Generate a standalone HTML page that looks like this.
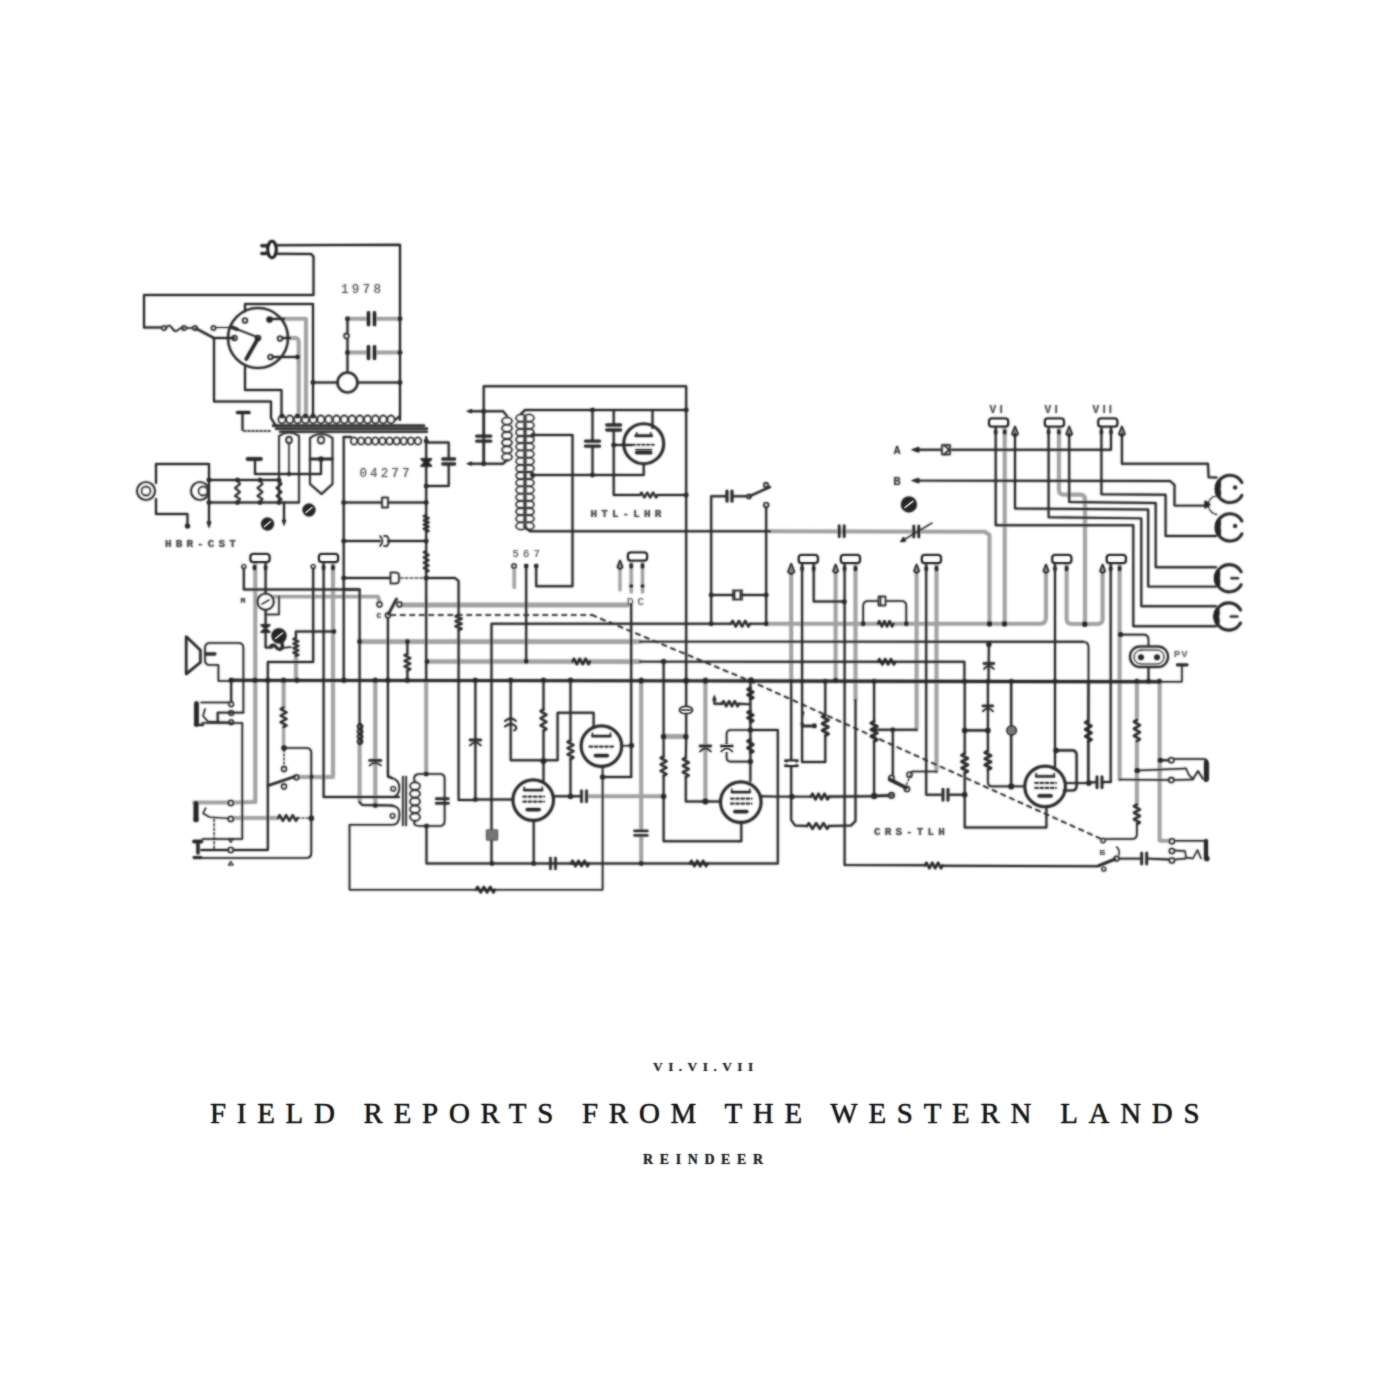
<!DOCTYPE html>
<html><head><meta charset="utf-8"><title>Field Reports from the Western Lands</title>
<style>
html,body{margin:0;padding:0;background:#fff;}
body{width:1400px;height:1400px;position:relative;overflow:hidden;font-family:"Liberation Serif",serif;color:#1a1a1a;}
svg{position:absolute;left:0;top:0;}
svg.b{filter:blur(0.8px);}
svg.c{opacity:0.45;}
svg .mono{font-family:"Liberation Mono","DejaVu Sans Mono",monospace;}
svg .sans{font-family:"Liberation Sans",sans-serif;}
.t{position:absolute;white-space:nowrap;line-height:1;}
#t1{left:653px;top:1059.5px;font-size:13.5px;letter-spacing:5.4px;font-weight:bold;color:rgba(40,40,40,0.55);text-shadow:0 0 1.6px rgba(40,40,40,0.95);}
#t2{left:210px;top:1098.5px;font-size:29px;letter-spacing:10.7px;color:rgba(17,17,17,0.55);-webkit-text-stroke:0.3px rgba(17,17,17,0.55);text-shadow:0 0 1.7px rgba(17,17,17,1);}
#t3{left:643px;top:1153px;font-size:14px;letter-spacing:6.6px;font-weight:bold;color:rgba(30,30,30,0.55);text-shadow:0 0 1.6px rgba(30,30,30,0.95);}
</style></head><body>
<svg class="b" width="1400" height="1400" viewBox="0 0 1400 1400" fill="none" stroke="#222" stroke-width="1.95" stroke-linecap="round" stroke-linejoin="round">
<polyline points="284,318.7 306,318.7 306,416" stroke="#a0a0a0" stroke-width="3.6"/>
<path d="M290,338 H295 q3.7,0 3.7,4 V416" stroke="#a0a0a0" stroke-width="3.6"/>
<polyline points="347.5,318.7 367.5,318.7" stroke="#a0a0a0" stroke-width="3.6"/>
<polyline points="377.5,318.7 400,318.7" stroke="#a0a0a0" stroke-width="3.6"/>
<polyline points="347.5,352.5 367.5,352.5" stroke="#a0a0a0" stroke-width="3.6"/>
<polyline points="377.5,352.5 400,352.5" stroke="#a0a0a0" stroke-width="3.6"/>
<polyline points="770,531.3 985,531.8" stroke="#a0a0a0" stroke-width="3.6"/>
<polyline points="985,531.8 989.5,535 989.5,623.8" stroke="#a0a0a0" stroke-width="3.6"/>
<polyline points="514.2,570 514.2,587.5" stroke="#a0a0a0" stroke-width="3.1"/>
<polyline points="631.2,561 631.2,592" stroke="#a0a0a0" stroke-width="3.1"/>
<polyline points="642.5,561 642.5,592" stroke="#a0a0a0" stroke-width="3.1"/>
<polyline points="620,566 620,590" stroke="#a0a0a0" stroke-width="2.9"/>
<polyline points="255.3,562 255.3,802" stroke="#a0a0a0" stroke-width="3.6"/>
<polyline points="273.8,596.6 279,596.6 378,596.6 379.5,601.5" stroke="#a0a0a0" stroke-width="3.4"/>
<polyline points="295.9,656 295.9,680.3" stroke="#a0a0a0" stroke-width="3.6"/>
<polyline points="333,562 333,777 298.5,777" stroke="#a0a0a0" stroke-width="3.6"/>
<polyline points="426.2,680.3 426.2,774" stroke="#a0a0a0" stroke-width="3.6"/>
<polyline points="402,605 627.5,605" stroke="#a0a0a0" stroke-width="4.3"/>
<polyline points="359.6,641.6 640,641.6" stroke="#a0a0a0" stroke-width="4.3"/>
<polyline points="255.3,802 234.6,802.5" stroke="#a0a0a0" stroke-width="3.6"/>
<polyline points="228,802.5 194,802.5" stroke="#a0a0a0" stroke-width="3.6"/>
<polyline points="234.6,818 278,818" stroke="#a0a0a0" stroke-width="3.6"/>
<polyline points="283.6,680.3 283.6,707.5" stroke="#a0a0a0" stroke-width="3.6"/>
<polyline points="283.6,727 283.6,747.9" stroke="#a0a0a0" stroke-width="2.9"/>
<polyline points="359.6,744 359.6,802" stroke="#a0a0a0" stroke-width="3.6"/>
<polyline points="375.3,680.3 375.3,805.5" stroke="#a0a0a0" stroke-width="3.6"/>
<polyline points="588,796.3 663.6,796.3" stroke="#a0a0a0" stroke-width="3.6"/>
<polyline points="641.2,680.3 641.2,830" stroke="#a0a0a0" stroke-width="3.6"/>
<polyline points="641.2,836 641.2,863.5" stroke="#a0a0a0" stroke-width="3.6"/>
<polyline points="663.6,736.5 685.8,736.5" stroke="#a0a0a0" stroke-width="4.3"/>
<polyline points="705.4,680.3 705.4,801.4" stroke="#a0a0a0" stroke-width="3.6"/>
<polyline points="791.2,571 791.2,680.3" stroke="#a0a0a0" stroke-width="3.6"/>
<polyline points="855.5,700 855.5,563" stroke="#a0a0a0" stroke-width="3.6"/>
<polyline points="835.6,571 835.6,680.3" stroke="#a0a0a0" stroke-width="3.6"/>
<polyline points="916.6,571 916.6,729.8" stroke="#a0a0a0" stroke-width="3.6"/>
<polyline points="936.5,563 936.5,771.6" stroke="#a0a0a0" stroke-width="3.6"/>
<polyline points="766.2,623.7 878,623.8" stroke="#a0a0a0" stroke-width="3.6"/>
<polyline points="893.4,623.8 1040,623.8" stroke="#a0a0a0" stroke-width="3.6"/>
<path d="M1040,623.8 q6,0 6,-6 V571" stroke="#a0a0a0" stroke-width="3.6"/>
<polyline points="427,661.5 640,661.6" stroke="#a0a0a0" stroke-width="4.1"/>
<polyline points="1004.7,427 1004.7,623.8" stroke="#a0a0a0" stroke-width="3.6"/>
<path d="M1058.9,427 V490 q0,4.6 4.6,4.6 H1080 q5,0 5,5 V623.8" stroke="#a0a0a0" stroke-width="3.6"/>
<path d="M1066.6,563 V619 q0,5 5,5 H1097.6 q5,0 5,-5 V571" stroke="#a0a0a0" stroke-width="3.6"/>
<polyline points="1119.6,563 1119.6,779.5" stroke="#a0a0a0" stroke-width="3.6"/>
<polyline points="1136.9,680.3 1136.9,720" stroke="#a0a0a0" stroke-width="3.6"/>
<polyline points="1136.9,741 1136.9,804.6" stroke="#a0a0a0" stroke-width="3.6"/>
<polyline points="1159.6,680.3 1159.6,840.6 1169,840.8" stroke="#a0a0a0" stroke-width="3.6"/>
<ellipse cx="272" cy="249.5" rx="4.2" ry="8.2" fill="#fff" stroke-width="3"/>
<polyline points="261.8,245.7 267.5,245.7" stroke-width="2.97"/>
<polyline points="261.8,253.6 267.5,253.6" stroke-width="2.97"/>
<polyline points="277,245.3 400,244.8 400,420"/>
<polyline points="277,253.8 311,254 313.5,256.5 313.5,295 144,295 144,327.5 161,327.5"/>
<circle cx="164" cy="328" r="2.2" fill="none" stroke-width="1.27"/>
<circle cx="184" cy="328" r="2.2" fill="none" stroke-width="1.27"/>
<circle cx="195" cy="328" r="2.2" fill="none" stroke-width="1.27"/>
<circle cx="213.5" cy="328" r="2.2" fill="none" stroke-width="1.27"/>
<path d="M166,328 q3,-5 6,0 t6,2 t5,-2" stroke-width="1.70"/>
<polyline points="186,328 193,328" stroke-width="1.27"/>
<polyline points="196,328.5 213,337.5" stroke-width="2.12"/>
<polyline points="215.5,327.5 228.5,327.5" stroke-width="1.17"/>
<polyline points="213,338 234,338"/>
<polyline points="214,338 214,401.5 271,401.5 271,418 276,426"/>
<circle cx="258" cy="338" r="30" fill="none" stroke-width="2.12"/>
<circle cx="245" cy="320.5" r="2.4" fill="none" stroke-width="1.38"/>
<circle cx="269.5" cy="319.5" r="2.4" fill="#222" stroke-width="1.38"/>
<circle cx="234.5" cy="338" r="2.4" fill="none" stroke-width="1.38"/>
<circle cx="280" cy="338.5" r="2.4" fill="none" stroke-width="1.38"/>
<circle cx="270.5" cy="357" r="2.4" fill="none" stroke-width="1.38"/>
<circle cx="258" cy="338" r="2.4" fill="none" stroke-width="1.38"/>
<polyline points="258,338.5 246,359.5" stroke-width="3.39" stroke-dasharray="5 1.2"/>
<polyline points="232,327.3 257,337" stroke-width="1.59"/>
<polyline points="232,327.3 237,329.3" stroke-width="3.18"/>
<polyline points="245,311.5 245,304 313,304 313,416"/>
<polyline points="271,319 284,318.7"/>
<polyline points="282.5,338 290,338"/>
<polyline points="272.5,357 297,357"/>
<circle cx="297.5" cy="357" r="2.3" fill="#222" stroke="none"/>
<polyline points="245,367 245,390 281.5,390 281.5,416"/>
<polyline points="237.5,412.5 249,412.5" stroke-width="3.18"/>
<polyline points="242.5,414 242.5,430"/>
<polyline points="244,431 272,431" stroke-width="1.38" stroke-dasharray="2 2"/>
<polyline points="273,425.7 424,425.7" stroke-width="2.33"/>
<polyline points="276,428.7 427,428.7" stroke-width="2.33"/>
<polyline points="280,431.7 427,431.7" stroke-width="2.12"/>
<ellipse cx="282" cy="419.5" rx="3.6" ry="4" fill="none" stroke-width="1.4"/>
<ellipse cx="289.786" cy="419.5" rx="3.6" ry="4" fill="none" stroke-width="1.4"/>
<ellipse cx="297.571" cy="419.5" rx="3.6" ry="4" fill="none" stroke-width="1.4"/>
<ellipse cx="305.357" cy="419.5" rx="3.6" ry="4" fill="none" stroke-width="1.4"/>
<ellipse cx="313.143" cy="419.5" rx="3.6" ry="4" fill="none" stroke-width="1.4"/>
<ellipse cx="320.929" cy="419.5" rx="3.6" ry="4" fill="none" stroke-width="1.4"/>
<ellipse cx="328.714" cy="419.5" rx="3.6" ry="4" fill="none" stroke-width="1.4"/>
<ellipse cx="336.5" cy="419.5" rx="3.6" ry="4" fill="none" stroke-width="1.4"/>
<ellipse cx="344.286" cy="419.5" rx="3.6" ry="4" fill="none" stroke-width="1.4"/>
<ellipse cx="352.071" cy="419.5" rx="3.6" ry="4" fill="none" stroke-width="1.4"/>
<ellipse cx="359.857" cy="419.5" rx="3.6" ry="4" fill="none" stroke-width="1.4"/>
<ellipse cx="367.643" cy="419.5" rx="3.6" ry="4" fill="none" stroke-width="1.4"/>
<ellipse cx="375.429" cy="419.5" rx="3.6" ry="4" fill="none" stroke-width="1.4"/>
<ellipse cx="383.214" cy="419.5" rx="3.6" ry="4" fill="none" stroke-width="1.4"/>
<ellipse cx="391" cy="419.5" rx="3.6" ry="4" fill="none" stroke-width="1.4"/>
<circle cx="282" cy="416" r="2.3" fill="#222" stroke="none"/>
<circle cx="297.5" cy="416" r="2.3" fill="#222" stroke="none"/>
<circle cx="305.5" cy="416" r="2.3" fill="#222" stroke="none"/>
<circle cx="313" cy="416" r="2.3" fill="#222" stroke="none"/>
<polyline points="395,420 400,416"/>
<ellipse cx="289" cy="440" rx="2.88" ry="3.2" fill="none" stroke-width="1.4"/>
<ellipse cx="321" cy="440" rx="3.15" ry="3.5" fill="none" stroke-width="1.4"/>
<ellipse cx="354" cy="441" rx="3.24" ry="3.6" fill="none" stroke-width="1.4"/>
<ellipse cx="361.111" cy="441" rx="3.24" ry="3.6" fill="none" stroke-width="1.4"/>
<ellipse cx="368.222" cy="441" rx="3.24" ry="3.6" fill="none" stroke-width="1.4"/>
<ellipse cx="375.333" cy="441" rx="3.24" ry="3.6" fill="none" stroke-width="1.4"/>
<ellipse cx="382.444" cy="441" rx="3.24" ry="3.6" fill="none" stroke-width="1.4"/>
<ellipse cx="389.556" cy="441" rx="3.24" ry="3.6" fill="none" stroke-width="1.4"/>
<ellipse cx="396.667" cy="441" rx="3.24" ry="3.6" fill="none" stroke-width="1.4"/>
<ellipse cx="403.778" cy="441" rx="3.24" ry="3.6" fill="none" stroke-width="1.4"/>
<ellipse cx="410.889" cy="441" rx="3.24" ry="3.6" fill="none" stroke-width="1.4"/>
<ellipse cx="418" cy="441" rx="3.24" ry="3.6" fill="none" stroke-width="1.4"/>
<polyline points="343.7,437 343.7,680.3"/>
<polyline points="343.7,437 351,437"/>
<polyline points="426.2,437 426.2,600"/>
<polyline points="368.5,312.7 368.5,324.7" stroke-width="3.18"/>
<polyline points="374.5,312.7 374.5,324.7" stroke-width="3.18"/>
<polyline points="368.5,346.5 368.5,358.5" stroke-width="3.18"/>
<polyline points="374.5,346.5 374.5,358.5" stroke-width="3.18"/>
<circle cx="347.5" cy="318.7" r="2.3" fill="#222" stroke="none"/>
<circle cx="347.5" cy="352.5" r="2.3" fill="#222" stroke="none"/>
<circle cx="400" cy="318.7" r="2.3" fill="#222" stroke="none"/>
<circle cx="400" cy="352.5" r="2.3" fill="#222" stroke="none"/>
<circle cx="400" cy="382.5" r="2.3" fill="#222" stroke="none"/>
<circle cx="346.5" cy="336" r="2.5" fill="none" stroke-width="1.27"/>
<polyline points="347.5,318.7 347.5,333"/>
<polyline points="347.5,339 347.5,372"/>
<circle cx="347.5" cy="382.5" r="10" fill="none" stroke-width="2.12"/>
<polyline points="312.5,382.5 337.5,382.5"/>
<circle cx="313" cy="382.5" r="2.3" fill="#222" stroke="none"/>
<polyline points="357.5,382.5 400,382.5"/>
<text x="341" y="292.5" font-size="12.5" letter-spacing="3.3" text-anchor="start" class="mono" font-weight="normal" fill="#555" stroke="none">1978</text>
<circle cx="426.2" cy="441" r="2.3" fill="#222" stroke="none"/>
<circle cx="426.2" cy="486" r="2.3" fill="#222" stroke="none"/>
<circle cx="426.2" cy="502.5" r="2.3" fill="#222" stroke="none"/>
<circle cx="426.2" cy="541" r="2.3" fill="#222" stroke="none"/>
<path d="M421,459 h10.5 l-5.2,5 z M421,466 h10.5 l-5.2,-5 z" stroke-width="1.27" fill="#222"/>
<polyline points="426.2,442.5 448.7,442.5 448.7,458"/>
<polyline points="448.7,465 448.7,486 426.2,486"/>
<polyline points="442.7,459 454.7,459" stroke-width="2.76"/>
<polyline points="442.7,464 454.7,464" stroke-width="2.76"/>
<text x="359.5" y="476.5" font-size="12.5" letter-spacing="3.1" text-anchor="start" class="mono" font-weight="normal" fill="#555" stroke="none">04277</text>
<polyline points="343.7,502.5 381,502.5"/>
<polyline points="389,502.5 426.2,502.5"/>
<circle cx="343.7" cy="502.5" r="2.3" fill="#222" stroke="none"/>
<path d="M382,497.5 h6 v10 h-6 z" stroke-width="1.48"/>
<polyline points="343.7,541 380,541"/>
<polyline points="388,541 426.2,541"/>
<circle cx="343.7" cy="541" r="2.3" fill="#222" stroke="none"/>
<path d="M380,536 q5,5 0,10 M384,536 h3 q4,5 0,10 h-3" stroke-width="1.38"/>
<polyline points="426.2,515 423.6,516.062 428.8,518.188 423.6,520.312 428.8,522.438 423.6,524.562 428.8,526.688 423.6,528.812 428.8,530.938 426.2,532" stroke-width="1.78"/>
<polyline points="426.2,551 423.6,552.312 428.8,554.938 423.6,557.562 428.8,560.188 423.6,562.812 428.8,565.438 423.6,568.062 428.8,570.688 426.2,572" stroke-width="1.78"/>
<circle cx="146" cy="491" r="9" fill="none" stroke-width="1.70"/>
<circle cx="146" cy="491" r="4.5" fill="none" stroke-width="1.27"/>
<circle cx="200" cy="491" r="9" fill="none" stroke-width="1.70"/>
<circle cx="203" cy="491" r="4.5" fill="none" stroke-width="1.27"/>
<polyline points="156,483 156,464 209,464 209,480"/>
<polyline points="156,499 156,514 187.5,514 187.5,524"/>
<circle cx="187.5" cy="526" r="2.5" fill="#222" stroke="none"/>
<polyline points="209,480 280,480"/>
<polyline points="209,502.5 299,502.5"/>
<polyline points="209,480 209,523"/>
<polygon points="206.55,521.5 211.45,521.5 209,528.5" fill="#222" stroke="none"/>
<circle cx="209" cy="480" r="2.3" fill="#222" stroke="none"/>
<circle cx="209" cy="502.5" r="2.3" fill="#222" stroke="none"/>
<circle cx="237.5" cy="480" r="2.2" fill="#222" stroke="none"/>
<circle cx="237.5" cy="502.5" r="2.2" fill="#222" stroke="none"/>
<polyline points="237.5,480 240,484 235,488 240,492 235,496 240,499 237.5,502.5" stroke-width="1.70"/>
<circle cx="260" cy="480" r="2.2" fill="#222" stroke="none"/>
<circle cx="260" cy="502.5" r="2.2" fill="#222" stroke="none"/>
<polyline points="260,480 262.5,484 257.5,488 262.5,492 257.5,496 262.5,499 260,502.5" stroke-width="1.70"/>
<circle cx="279" cy="480" r="2.2" fill="#222" stroke="none"/>
<circle cx="279" cy="502.5" r="2.2" fill="#222" stroke="none"/>
<polyline points="279,480 281.5,484 276.5,488 281.5,492 276.5,496 281.5,499 279,502.5" stroke-width="1.70"/>
<polyline points="284,502.5 284,521"/>
<polygon points="281.76,519.8 286.24,519.8 284,526.2" fill="#222" stroke="none"/>
<polyline points="247.5,459 261,459" stroke-width="3.39"/>
<polyline points="255,461 255,474 321,474 321,461"/>
<circle cx="289" cy="474" r="2" fill="#222" stroke="none"/>
<path d="M279,436 v66 M299,436 v66 M279,436 q10,-7 20,0" stroke-width="1.59"/>
<polyline points="289,444 289,474" stroke-width="1.27"/>
<path d="M310,438 q11,-8 22.5,0 v46 l-11,10 l-11.5,-10 z" stroke-width="1.70"/>
<polyline points="310,459 332.5,459" stroke-width="2.33"/>
<circle cx="321" cy="459" r="2.6" fill="#222" stroke="none"/>
<circle cx="309" cy="510" r="5.5" fill="#222"/>
<line x1="306" y1="512.5" x2="312" y2="507.5" stroke="#fff" stroke-width="1.3"/>
<circle cx="267.5" cy="524" r="5.5" fill="#222"/>
<line x1="264.5" y1="526.5" x2="270.5" y2="521.5" stroke="#fff" stroke-width="1.3"/>
<text x="165" y="546.8" font-size="11" letter-spacing="4.1" text-anchor="start" class="mono" font-weight="bold" fill="#444" stroke="none">HBR-CST</text>
<polyline points="483.7,463.7 483.7,386.2 686.2,386.2 686.2,740"/>
<circle cx="483.7" cy="411.2" r="2.3" fill="#222" stroke="none"/>
<circle cx="483.7" cy="463.7" r="2.3" fill="#222" stroke="none"/>
<polyline points="483.7,411.2 469,411.2"/>
<polygon points="472,409.1 472,413.3 466,411.2" fill="#222" stroke="none"/>
<polyline points="483.7,463.7 469,463.7"/>
<polygon points="472,461.6 472,465.8 466,463.7" fill="#222" stroke="none"/>
<polyline points="483.7,411.2 483.7,435"/>
<polyline points="483.7,442 483.7,463.7"/>
<polyline points="476.7,436.2 490.7,436.2" stroke-width="2.76"/>
<polyline points="476.7,441.2 490.7,441.2" stroke-width="2.76"/>
<polyline points="483.7,411.2 503,411.2 507,416"/>
<polyline points="483.7,463.7 503,463.7 507,460"/>
<ellipse cx="507" cy="421" rx="5" ry="3.6" fill="none" stroke-width="1.4"/>
<ellipse cx="507" cy="428.2" rx="5" ry="3.6" fill="none" stroke-width="1.4"/>
<ellipse cx="507" cy="435.4" rx="5" ry="3.6" fill="none" stroke-width="1.4"/>
<ellipse cx="507" cy="442.6" rx="5" ry="3.6" fill="none" stroke-width="1.4"/>
<ellipse cx="507" cy="449.8" rx="5" ry="3.6" fill="none" stroke-width="1.4"/>
<ellipse cx="507" cy="457" rx="5" ry="3.6" fill="none" stroke-width="1.4"/>
<polyline points="525,410 686.2,410"/>
<circle cx="686.2" cy="410" r="2.3" fill="#222" stroke="none"/>
<circle cx="592.5" cy="410" r="2.3" fill="#222" stroke="none"/>
<polyline points="525,410 521,414"/>
<ellipse cx="521" cy="418" rx="5" ry="3.6" fill="none" stroke-width="1.3"/>
<ellipse cx="521" cy="425.2" rx="5" ry="3.6" fill="none" stroke-width="1.3"/>
<ellipse cx="521" cy="432.4" rx="5" ry="3.6" fill="none" stroke-width="1.3"/>
<ellipse cx="521" cy="439.6" rx="5" ry="3.6" fill="none" stroke-width="1.3"/>
<ellipse cx="521" cy="446.8" rx="5" ry="3.6" fill="none" stroke-width="1.3"/>
<ellipse cx="521" cy="454" rx="5" ry="3.6" fill="none" stroke-width="1.3"/>
<ellipse cx="521" cy="461.2" rx="5" ry="3.6" fill="none" stroke-width="1.3"/>
<ellipse cx="521" cy="468.4" rx="5" ry="3.6" fill="none" stroke-width="1.3"/>
<ellipse cx="521" cy="475.6" rx="5" ry="3.6" fill="none" stroke-width="1.3"/>
<ellipse cx="521" cy="482.8" rx="5" ry="3.6" fill="none" stroke-width="1.3"/>
<ellipse cx="521" cy="490" rx="5" ry="3.6" fill="none" stroke-width="1.3"/>
<ellipse cx="521" cy="497.2" rx="5" ry="3.6" fill="none" stroke-width="1.3"/>
<ellipse cx="521" cy="504.4" rx="5" ry="3.6" fill="none" stroke-width="1.3"/>
<ellipse cx="521" cy="511.6" rx="5" ry="3.6" fill="none" stroke-width="1.3"/>
<ellipse cx="521" cy="518.8" rx="5" ry="3.6" fill="none" stroke-width="1.3"/>
<ellipse cx="521" cy="526" rx="5" ry="3.6" fill="none" stroke-width="1.3"/>
<ellipse cx="529" cy="418" rx="5" ry="3.6" fill="none" stroke-width="1.3"/>
<ellipse cx="529" cy="425.2" rx="5" ry="3.6" fill="none" stroke-width="1.3"/>
<ellipse cx="529" cy="432.4" rx="5" ry="3.6" fill="none" stroke-width="1.3"/>
<ellipse cx="529" cy="439.6" rx="5" ry="3.6" fill="none" stroke-width="1.3"/>
<ellipse cx="529" cy="446.8" rx="5" ry="3.6" fill="none" stroke-width="1.3"/>
<ellipse cx="529" cy="454" rx="5" ry="3.6" fill="none" stroke-width="1.3"/>
<ellipse cx="529" cy="461.2" rx="5" ry="3.6" fill="none" stroke-width="1.3"/>
<ellipse cx="529" cy="468.4" rx="5" ry="3.6" fill="none" stroke-width="1.3"/>
<ellipse cx="529" cy="475.6" rx="5" ry="3.6" fill="none" stroke-width="1.3"/>
<ellipse cx="529" cy="482.8" rx="5" ry="3.6" fill="none" stroke-width="1.3"/>
<ellipse cx="529" cy="490" rx="5" ry="3.6" fill="none" stroke-width="1.3"/>
<ellipse cx="529" cy="497.2" rx="5" ry="3.6" fill="none" stroke-width="1.3"/>
<ellipse cx="529" cy="504.4" rx="5" ry="3.6" fill="none" stroke-width="1.3"/>
<ellipse cx="529" cy="511.6" rx="5" ry="3.6" fill="none" stroke-width="1.3"/>
<ellipse cx="529" cy="518.8" rx="5" ry="3.6" fill="none" stroke-width="1.3"/>
<ellipse cx="529" cy="526" rx="5" ry="3.6" fill="none" stroke-width="1.3"/>
<polyline points="533.7,435 572.5,435 572.5,586.2 536.2,586.2 536.2,568"/>
<circle cx="533" cy="435" r="2" fill="#222" stroke="none"/>
<polyline points="532.5,475 643.7,475 643.7,464"/>
<circle cx="532.5" cy="475" r="2.3" fill="#222" stroke="none"/>
<circle cx="592.5" cy="475" r="2.3" fill="#222" stroke="none"/>
<polyline points="592.5,410 592.5,440"/>
<polyline points="592.5,447 592.5,475"/>
<polyline points="585.5,441.2 599.5,441.2" stroke-width="2.76"/>
<polyline points="585.5,446.2 599.5,446.2" stroke-width="2.76"/>
<polyline points="613.7,410 613.7,424"/>
<polyline points="613.7,431 613.7,495 640,495"/>
<polyline points="606.7,425 620.7,425" stroke-width="2.76"/>
<polyline points="606.7,430 620.7,430" stroke-width="2.76"/>
<polyline points="640,495 641.458,492.5 644.375,497.5 647.292,492.5 650.208,497.5 653.125,492.5 656.042,497.5 657.5,495" stroke-width="1.91"/>
<polyline points="657.5,495 686.2,495"/>
<circle cx="686.2" cy="495" r="2.3" fill="#222" stroke="none"/>
<circle cx="613.7" cy="445" r="2.3" fill="#222" stroke="none"/>
<circle cx="643.7" cy="443.7" r="20" fill="none" stroke-width="2.65"/>
<polyline points="635.7,435.7 651.7,435.7" stroke-width="2.54"/>
<polyline points="636.7,432.7 636.7,435.7" stroke-width="1.27"/>
<polyline points="650.7,432.7 650.7,435.7" stroke-width="1.27"/>
<polyline points="632.7,444.7 654.7,444.7" stroke-width="1.59" stroke-dasharray="2.5 2.2"/>
<polyline points="636.7,452.7 650.7,452.7" stroke-width="3.18"/>
<polyline points="635.7,449.7 651.7,449.7" stroke-width="1.17"/>
<polyline points="613.7,445 632,445"/>
<polyline points="652.5,428 652.5,410"/>
<text x="590.5" y="517.3" font-size="11" letter-spacing="4.1" text-anchor="start" class="mono" font-weight="bold" fill="#444" stroke="none">HTL-LHR</text>
<polyline points="526,528 530,531.2 770,531.3"/>
<polyline points="711.2,623.7 711.2,496.2 726,496.2"/>
<polyline points="727,491.2 727,501.2" stroke-width="2.76"/>
<polyline points="732,491.2 732,501.2" stroke-width="2.76"/>
<polyline points="733,496.2 747,496.2"/>
<circle cx="749" cy="496.5" r="2" fill="none" stroke-width="1.27"/>
<polyline points="750,496 770,487" stroke-width="2.12"/>
<circle cx="766" cy="485" r="2.2" fill="none" stroke-width="1.38"/>
<circle cx="766.2" cy="505" r="2.4" fill="none" stroke-width="1.38"/>
<polyline points="766.2,507.5 766.2,623.7"/>
<circle cx="711.2" cy="595" r="2.3" fill="#222" stroke="none"/>
<circle cx="711.2" cy="623.7" r="2.3" fill="#222" stroke="none"/>
<circle cx="766.2" cy="595" r="2.3" fill="#222" stroke="none"/>
<circle cx="766.2" cy="623.7" r="2.3" fill="#222" stroke="none"/>
<polyline points="711.2,595 733,595"/>
<polyline points="742,595 766.2,595"/>
<path d="M734.5,590.5 h6 v9 h-6 z" stroke-width="1.38"/>
<polyline points="733,590 733,600" stroke-width="1.27"/>
<polyline points="742,590 742,600" stroke-width="1.27"/>
<text x="512.5" y="556.5" font-size="10.5" letter-spacing="4.2" text-anchor="start" class="mono" font-weight="normal" fill="#555" stroke="none">567</text>
<circle cx="514" cy="566" r="2.2" fill="none" stroke-width="1.27"/>
<circle cx="526.2" cy="566" r="2.2" fill="#222" stroke="none"/>
<circle cx="536.2" cy="566" r="2.2" fill="#222" stroke="none"/>
<polyline points="526.2,566 526.2,661.2"/>
<circle cx="526.2" cy="661.2" r="2.3" fill="#222" stroke="none"/>
<rect x="628" y="552.5" width="19" height="8" rx="2.8" fill="#fff" stroke-width="2.1"/>
<circle cx="631.2" cy="586" r="1.8" fill="#222" stroke="none"/>
<circle cx="642.5" cy="586" r="1.8" fill="#222" stroke="none"/>
<path d="M617.4,567.12 L620,560.36 L622.6,567.12 L620,569.2 Z" stroke-width="1.38" fill="#888"/>
<text x="627" y="604.5" font-size="11" letter-spacing="4" text-anchor="start" class="mono" font-weight="normal" fill="#555" stroke="none">DC</text>
<polyline points="631.2,604 631.2,777"/>
<rect x="250.5" y="554" width="19" height="8" rx="2.8" fill="#fff" stroke-width="2.1"/>
<rect x="319" y="554" width="19" height="8" rx="2.8" fill="#fff" stroke-width="2.1"/>
<circle cx="243.8" cy="566.5" r="2" fill="none" stroke-width="1.17"/>
<circle cx="313.2" cy="566.5" r="2" fill="none" stroke-width="1.17"/>
<polyline points="243.8,569 243.8,589.5 359.6,589.5 359.6,724"/>
<circle cx="359.6" cy="641.6" r="2.3" fill="#222" stroke="none"/>
<polyline points="265.6,562 265.6,593.5"/>
<circle cx="265.6" cy="601.7" r="8.2" fill="none" stroke-width="1.70"/>
<polyline points="262,604 269,600" stroke-width="1.38"/>
<text x="240.5" y="602.5" font-size="8" letter-spacing="0" text-anchor="start" class="mono" font-weight="bold" fill="#3a3a3a" stroke="none">M</text>
<polyline points="279,596.6 279,614.6 265.6,614.6" stroke-width="1.48"/>
<polyline points="265.6,610 265.6,625"/>
<polyline points="265.6,632 265.6,647.4 272,647.4"/>
<path d="M261,625 h9 l-4.5,3.5 z M261,632 h9 l-4.5,-3.5 z" stroke-width="1.27" fill="#222"/>
<circle cx="279" cy="635.8" r="6.6" fill="#222"/>
<line x1="275.5" y1="638.5" x2="282.5" y2="633" stroke="#fff" stroke-width="1.4"/>
<path d="M271,646 q3,-2 5,1 t5,2 q2,-1 1,-6" stroke-width="2.97"/>
<polyline points="282,648 291,647" stroke-width="1.27"/>
<polyline points="295.9,638 293.3,639.125 298.5,641.375 293.3,643.625 298.5,645.875 293.3,648.125 298.5,650.375 293.3,652.625 298.5,654.875 295.9,656" stroke-width="1.91"/>
<polyline points="295.9,638 295.9,631.5 333.8,631.5"/>
<circle cx="333.8" cy="631.5" r="2.3" fill="#222" stroke="none"/>
<polyline points="313.2,569 313.2,662 267.8,662 267.8,850 234.6,850"/>
<polyline points="323.6,562 323.6,797 399,797"/>
<circle cx="343.7" cy="578" r="2.3" fill="#222" stroke="none"/>
<circle cx="343.7" cy="680.3" r="2.3" fill="#222" stroke="none"/>
<polyline points="343.7,578 390,578"/>
<path d="M390.5,572.5 h5 q3.5,0 3.5,3 v5 q0,3 -3.5,3 h-5 z" stroke-width="1.48"/>
<polyline points="400,578 424,578" stroke-width="1.17" stroke-dasharray="3 2"/>
<circle cx="426.2" cy="578" r="2.3" fill="#222" stroke="none"/>
<polyline points="426.2,578 455,578 458.6,581 458.6,615"/>
<polyline points="458.6,615 455.6,616.25 461.6,618.75 455.6,621.25 461.6,623.75 455.6,626.25 461.6,628.75 458.6,630" stroke-width="2.29"/>
<polyline points="458.6,630 458.6,800 475.5,800"/>
<polyline points="426.2,600 426.2,680.3"/>
<polyline points="344,589.5 359.6,589.5"/>
<circle cx="379.5" cy="604.4" r="2.5" fill="none" stroke-width="1.27"/>
<circle cx="399.4" cy="604.4" r="2.5" fill="none" stroke-width="1.27"/>
<circle cx="387.9" cy="615.3" r="2.5" fill="none" stroke-width="1.27"/>
<polyline points="388.5,614 396.5,599" stroke-width="2.54"/>
<text x="376.5" y="618" font-size="8" letter-spacing="0" text-anchor="start" class="mono" font-weight="bold" fill="#3a3a3a" stroke="none">C</text>
<polyline points="391,615 592,615" stroke-width="1.59" stroke-dasharray="4.5 5"/>
<polyline points="592,615 751.7,681.7 1102,839.3" stroke-width="1.59" stroke-dasharray="4.5 5"/>
<polyline points="387.9,618 387.9,776.6 392,778"/>
<polyline points="640,641.6 1083,641.8" stroke-width="1.91"/>
<circle cx="407.4" cy="641.6" r="2.3" fill="#222" stroke="none"/>
<polyline points="407.4,641.6 407.4,654"/>
<polyline points="407.4,654 404.4,655.375 410.4,658.125 404.4,660.875 410.4,663.625 404.4,666.375 410.4,669.125 407.4,670.5" stroke-width="2.04"/>
<polyline points="407.4,670.5 407.4,680.3"/>
<circle cx="427" cy="661.5" r="2.3" fill="#222" stroke="none"/>
<polyline points="711.2,623.7 491.5,623.7 491.5,800"/>
<polyline points="230.6,680.3 700,680.9 1160,681.8" stroke-width="2.86"/>
<circle cx="231.2" cy="680.3" r="2.5" fill="#222" stroke="none"/>
<circle cx="255" cy="680.3" r="2.5" fill="#222" stroke="none"/>
<circle cx="267.8" cy="680.3" r="2.5" fill="#222" stroke="none"/>
<circle cx="283.6" cy="680.3" r="2.5" fill="#222" stroke="none"/>
<circle cx="297" cy="680.3" r="2.5" fill="#222" stroke="none"/>
<circle cx="344" cy="680.3" r="2.5" fill="#222" stroke="none"/>
<circle cx="375.3" cy="680.3" r="2.5" fill="#222" stroke="none"/>
<circle cx="387.9" cy="680.3" r="2.5" fill="#222" stroke="none"/>
<circle cx="407.4" cy="680.3" r="2.5" fill="#222" stroke="none"/>
<circle cx="475.3" cy="680.3" r="2.5" fill="#222" stroke="none"/>
<path d="M186.2,636.7 L200.4,650.2 V662.4 L186.2,674 Z" stroke-width="2.33"/>
<path d="M243.4,712.6 V648 q0,-5 -5,-5 H210 q-5,0 -5,5 V660 q0,5 5,5 H218.4 V681 H230.6" stroke-width="1.59"/>
<polyline points="206,654 215,654" stroke-width="2.76"/>
<polyline points="243.4,712.6 217.7,712.6 217.7,722"/>
<polyline points="231.2,680.3 231.2,701.5"/>
<circle cx="231.2" cy="704.2" r="2.4" fill="none" stroke-width="1.17"/>
<circle cx="231.2" cy="713" r="2.4" fill="none" stroke-width="1.17"/>
<circle cx="231.2" cy="722.2" r="2.4" fill="none" stroke-width="1.17"/>
<polyline points="196.5,703.5 196.5,724.5" stroke-width="4.45"/>
<polyline points="195,725 203,725" stroke-width="2.12"/>
<polyline points="201,702.5 229,702.5" stroke-width="1.27"/>
<polyline points="205,709 203,716 208,721.5 229,722.5" stroke-width="1.38"/>
<polyline points="202,723 242.3,723 242.3,839 202.5,839" stroke-width="1.59"/>
<circle cx="230.8" cy="803" r="2.6" fill="none" stroke-width="1.27"/>
<polyline points="196,803.5 196,818.5" stroke-width="4.66"/>
<circle cx="196" cy="819.5" r="2.6" fill="#222" stroke="none"/>
<polyline points="205.7,808 203.1,813.3 209.6,817.1 228,818.4" stroke-width="1.38"/>
<circle cx="230.8" cy="819" r="2.6" fill="none" stroke-width="1.27"/>
<polyline points="278,818 279.633,815.2 282.9,820.8 286.167,815.2 289.433,820.8 292.7,815.2 295.967,820.8 297.6,818" stroke-width="2.16"/>
<polyline points="298,818 311,818" stroke-width="1.17" stroke-dasharray="2 2"/>
<circle cx="311.3" cy="818.2" r="2.6" fill="#222" stroke="none"/>
<polyline points="214.1,819 214.1,849" stroke-width="1.17" stroke-dasharray="2.5 2"/>
<polyline points="194,841.5 201.5,841.5" stroke-width="3.39"/>
<polyline points="198,842 198,853" stroke-width="3.18"/>
<polyline points="194,857.6 201,857.6" stroke-width="2.65"/>
<polyline points="201.2,850 228,850"/>
<circle cx="230.8" cy="850" r="2.6" fill="none" stroke-width="1.27"/>
<path d="M228.5,839 l2.3,3.5 l2.3,-3.5 z M228.5,865 l2.3,-3.5 l2.3,3.5 z" stroke-width="1.06"/>
<path d="M201,858 H306 q5.3,0 5.3,-5 V753 q0,-5 -5,-5 H284" stroke-width="1.70"/>
<circle cx="284" cy="747.9" r="2.6" fill="#222" stroke="none"/>
<polyline points="283.6,707.5 280.6,709.125 286.6,712.375 280.6,715.625 286.6,718.875 280.6,722.125 286.6,725.375 283.6,727" stroke-width="2.16"/>
<polyline points="284,750 284,766" stroke-width="1.17" stroke-dasharray="2 2"/>
<circle cx="284" cy="769" r="2.5" fill="none" stroke-width="1.27"/>
<circle cx="296.4" cy="777.3" r="2.5" fill="none" stroke-width="1.27"/>
<circle cx="284" cy="786.5" r="2.5" fill="none" stroke-width="1.27"/>
<polyline points="268,785.6 294.5,776.6" stroke-width="2.54"/>
<circle cx="311.5" cy="776.8" r="2" fill="#222" stroke="none"/>
<path d="M359.6,724 q5,2.5 0,5 q5,2.5 0,5 q5,2.5 0,5 q5,2.5 0,5" stroke-width="2.54"/>
<path d="M359.6,724 q-4,2.5 0,5 q-4,2.5 0,5 q-4,2.5 0,5 q-4,2.5 0,5" stroke-width="1.70"/>
<polyline points="359.6,802 362,805 392.6,805.5"/>
<circle cx="375.3" cy="805.5" r="2.3" fill="#222" stroke="none"/>
<polyline points="369.5,760.5 381,760.5" stroke-width="2.33"/>
<path d="M369.5,765.5 q5.7,-5 11.5,0" stroke-width="1.48"/>
<path d="M387.9,770 V774 q0,3 4,4 q7.5,2 7.5,9.6 q0,9.5 -8,9.5" stroke-width="1.59"/>
<path d="M392,806 q7.5,0 7.5,8 q0,10.8 -7,10.8 H349.5 V889.7 H602.6 V766.5" stroke-width="1.59"/>
<circle cx="393.2" cy="788.8" r="2.3" fill="none" stroke-width="1.17"/>
<circle cx="392.6" cy="815.8" r="2.3" fill="none" stroke-width="1.17"/>
<polyline points="402.9,776.6 402.9,825.4" stroke-width="1.59"/>
<polyline points="406.1,776.6 406.1,825.4" stroke-width="1.59"/>
<ellipse cx="415" cy="786" rx="5" ry="3.78" fill="none" stroke-width="1.4"/>
<ellipse cx="415" cy="793.75" rx="5" ry="3.78" fill="none" stroke-width="1.4"/>
<ellipse cx="415" cy="801.5" rx="5" ry="3.78" fill="none" stroke-width="1.4"/>
<ellipse cx="415" cy="809.25" rx="5" ry="3.78" fill="none" stroke-width="1.4"/>
<ellipse cx="415" cy="817" rx="5" ry="3.78" fill="none" stroke-width="1.4"/>
<path d="M415,782 q-3,-8 5,-8 H440 q4.6,0 4.6,4.6 V821 q0,5 -5,5 H420 q-8,0 -5,-5" stroke-width="1.59"/>
<circle cx="426.2" cy="774" r="2.3" fill="#222" stroke="none"/>
<circle cx="426.5" cy="826" r="2.3" fill="#222" stroke="none"/>
<polyline points="436.3,798.75 448.3,798.75" stroke-width="2.54"/>
<polyline points="436.3,803.25 448.3,803.25" stroke-width="2.54"/>
<polyline points="426.5,826 426.5,863.5 777.8,863.5 777.8,730 750.4,730"/>
<polyline points="475.4,680.3 475.4,799.5"/>
<circle cx="475.4" cy="799.5" r="2.3" fill="#222" stroke="none"/>
<polyline points="469.9,740 480.9,740" stroke-width="2.33"/>
<path d="M469.9,745.5 q5.5,-6 11,0" stroke-width="1.59"/>
<polyline points="475.5,799.5 513,799.5"/>
<polyline points="491.5,800 491.5,863.5"/>
<circle cx="492" cy="863.5" r="2.3" fill="#222" stroke="none"/>
<rect x="487" y="830" width="10.5" height="10" fill="#777" stroke="#555" stroke-width="1"/>
<polyline points="510.7,680.3 510.7,760.3 557.6,760.3 557.6,712.7 593.6,712.7 593.6,727"/>
<circle cx="510.7" cy="680.3" r="2.5" fill="#222" stroke="none"/>
<path d="M505,721 q6,-5 11,0 M505,726.5 q6,-5 11,0 q1,3 -2,4" stroke-width="1.70"/>
<polyline points="543.5,680.3 543.5,709.5"/>
<polyline points="543.5,709.5 540.5,711.267 546.5,714.8 540.5,718.333 546.5,721.867 540.5,725.4 546.5,728.933 543.5,730.7" stroke-width="2.16"/>
<polyline points="543.5,730.7 543.5,781"/>
<circle cx="543.5" cy="680.3" r="2.5" fill="#222" stroke="none"/>
<circle cx="543.5" cy="761" r="2.8" fill="#222" stroke="none"/>
<polyline points="570.5,680.3 570.5,740.4"/>
<polyline points="570.5,740.4 567.5,741.95 573.5,745.05 567.5,748.15 573.5,751.25 567.5,754.35 573.5,757.45 570.5,759" stroke-width="2.16"/>
<polyline points="570.5,759 570.5,796.3"/>
<circle cx="570.5" cy="680.3" r="2.5" fill="#222" stroke="none"/>
<circle cx="570.5" cy="796.3" r="2.6" fill="#222" stroke="none"/>
<circle cx="533.2" cy="800.1" r="20.3" fill="none" stroke-width="2.65"/>
<polyline points="524.2,790.1 542.2,790.1" stroke-width="2.33"/>
<polyline points="524.2,787.1 524.2,790.1" stroke-width="1.27"/>
<polyline points="542.2,787.1 542.2,790.1" stroke-width="1.27"/>
<polyline points="523.2,796.6 544.2,796.6" stroke-width="1.59" stroke-dasharray="3 2.2"/>
<polyline points="523.2,801.6 544.2,801.6" stroke-width="1.59" stroke-dasharray="3 2.2"/>
<polyline points="527.2,809.6 539.2,809.6" stroke-width="3.18"/>
<polyline points="553.5,796.3 580,796.3"/>
<polyline points="581.5,790.8 581.5,801.8" stroke-width="2.44"/>
<polyline points="586.5,790.8 586.5,801.8" stroke-width="2.44"/>
<polyline points="533.7,820.5 533.7,863.5"/>
<circle cx="533.7" cy="863.5" r="2.3" fill="#222" stroke="none"/>
<polyline points="550.5,858 550.5,869" stroke-width="2.33"/>
<polyline points="555.5,858 555.5,869" stroke-width="2.33"/>
<polyline points="571,863.5 572.5,860.7 575.5,866.3 578.5,860.7 581.5,866.3 584.5,860.7 587.5,866.3 589,863.5" stroke-width="2.16"/>
<polyline points="690,863.5 691.458,860.7 694.375,866.3 697.292,860.7 700.208,866.3 703.125,860.7 706.042,866.3 707.5,863.5" stroke-width="2.16"/>
<polyline points="476,889.7 477.583,886.9 480.75,892.5 483.917,886.9 487.083,892.5 490.25,886.9 493.417,892.5 495,889.7" stroke-width="2.16"/>
<circle cx="601.4" cy="746.1" r="20.3" fill="none" stroke-width="2.65"/>
<polyline points="592.4,736.1 610.4,736.1" stroke-width="2.33"/>
<polyline points="592.4,733.1 592.4,736.1" stroke-width="1.27"/>
<polyline points="610.4,733.1 610.4,736.1" stroke-width="1.27"/>
<polyline points="589.4,746.6 613.4,746.6" stroke-width="1.59" stroke-dasharray="3 2.2"/>
<polyline points="595.4,755.6 607.4,755.6" stroke-width="3.18"/>
<circle cx="602.6" cy="777" r="2.5" fill="#222" stroke="none"/>
<polyline points="602.6,777 631.4,777"/>
<circle cx="631.4" cy="745.5" r="2.5" fill="#222" stroke="none"/>
<polyline points="622,745.8 631.4,745.5" stroke-width="1.27"/>
<circle cx="641.2" cy="680.3" r="2.5" fill="#222" stroke="none"/>
<circle cx="641.2" cy="863.5" r="2.3" fill="#222" stroke="none"/>
<polyline points="634.5,830.95 647.5,830.95" stroke-width="2.33"/>
<polyline points="634.5,835.45 647.5,835.45" stroke-width="2.33"/>
<circle cx="663.6" cy="661.5" r="2.5" fill="#222" stroke="none"/>
<polyline points="663.6,661.5 663.6,756.4"/>
<polyline points="663.6,756.4 660.6,758.008 666.6,761.225 660.6,764.442 666.6,767.658 660.6,770.875 666.6,774.092 663.6,775.7" stroke-width="2.16"/>
<polyline points="663.6,775.7 663.6,841.2 741.3,841.2 741.3,822"/>
<circle cx="663.6" cy="736.5" r="2.6" fill="#222" stroke="none"/>
<circle cx="663.6" cy="796.3" r="2.6" fill="#222" stroke="none"/>
<circle cx="685.8" cy="736.5" r="2.6" fill="#222" stroke="none"/>
<circle cx="686.2" cy="680.3" r="2.5" fill="#222" stroke="none"/>
<polyline points="685.8,757.7 682.8,759.308 688.8,762.525 682.8,765.742 688.8,768.958 682.8,772.175 688.8,775.392 685.8,777" stroke-width="2.16"/>
<polyline points="686.2,740 685.8,757.7"/>
<polyline points="685.8,777 685.8,801.4 721,801.4"/>
<circle cx="705.4" cy="801.4" r="2.8" fill="#222" stroke="none"/>
<ellipse cx="686" cy="710" rx="6.5" ry="3.6" fill="#fff" stroke-width="1.5"/>
<polyline points="681.5,710 690.5,710" stroke-width="1.70"/>
<circle cx="705.4" cy="680.3" r="2.5" fill="#222" stroke="none"/>
<polyline points="699.9,746 710.9,746" stroke-width="2.33"/>
<path d="M699.9,751.5 q5.5,-6 11,0" stroke-width="1.59"/>
<circle cx="751" cy="680.3" r="2.8" fill="#222" stroke="none"/>
<polyline points="750.4,680.3 750.4,781"/>
<polyline points="750.4,688 747.6,689.375 753.2,692.125 747.6,694.875 753.2,697.625 750.4,699" stroke-width="2.54"/>
<polyline points="750.4,711 747.6,712.375 753.2,715.125 747.6,717.875 753.2,720.625 750.4,722" stroke-width="2.54"/>
<polyline points="750.4,739.5 747.6,741.188 753.2,744.562 747.6,747.938 753.2,751.312 750.4,753" stroke-width="2.54"/>
<circle cx="750.4" cy="730" r="2.5" fill="#222" stroke="none"/>
<circle cx="750.4" cy="761.6" r="2.5" fill="#222" stroke="none"/>
<path d="M750.4,730 H731 q-4.4,0 -4.4,4 V757.6 q0,4 4,4 H750.4" stroke-width="1.59"/>
<rect x="722" y="744" width="10" height="8" fill="#fff" stroke="none"/>
<polyline points="721.3,746 732.3,746" stroke-width="2.33"/>
<path d="M721.3,751.5 q5.5,-6 11,0" stroke-width="1.59"/>
<polyline points="714.4,700.5 714.4,703.7 722,703.7"/>
<polygon points="712.3,700.5 716.5,700.5 714.4,694.5" fill="#222" stroke="none"/>
<polyline points="722,703.7 723.417,701.1 726.25,706.3 729.083,701.1 731.917,706.3 734.75,701.1 737.583,706.3 739,703.7" stroke-width="2.16"/>
<polyline points="739,703.7 750.4,704.4"/>
<circle cx="740.8" cy="802.1" r="20.3" fill="none" stroke-width="2.65"/>
<polyline points="731.8,792.1 749.8,792.1" stroke-width="2.33"/>
<polyline points="731.8,789.1 731.8,792.1" stroke-width="1.27"/>
<polyline points="749.8,789.1 749.8,792.1" stroke-width="1.27"/>
<polyline points="730.8,798.6 751.8,798.6" stroke-width="1.59" stroke-dasharray="3 2.2"/>
<polyline points="730.8,803.6 751.8,803.6" stroke-width="1.59" stroke-dasharray="3 2.2"/>
<polyline points="734.8,811.6 746.8,811.6" stroke-width="3.18"/>
<circle cx="751.7" cy="681.2" r="1" fill="#222" stroke="none"/>
<polyline points="572.5,661.5 573.958,658.7 576.875,664.3 579.792,658.7 582.708,664.3 585.625,658.7 588.542,664.3 590,661.5" stroke-width="2.16"/>
<polyline points="731,623.7 732.583,620.9 735.75,626.5 738.917,620.9 742.083,626.5 745.25,620.9 748.417,626.5 750,623.7" stroke-width="2.16"/>
<polyline points="711.2,623.7 731,623.7"/>
<polyline points="750,623.7 766.2,623.7"/>
<rect x="798.8" y="555" width="19" height="8" rx="2.8" fill="#fff" stroke-width="2.1"/>
<rect x="840.9" y="555" width="19" height="8" rx="2.8" fill="#fff" stroke-width="2.1"/>
<rect x="921.9" y="555" width="19" height="8" rx="2.8" fill="#fff" stroke-width="2.1"/>
<rect x="1052.3" y="555" width="19" height="8" rx="2.8" fill="#fff" stroke-width="2.1"/>
<rect x="1106.8" y="555" width="19" height="8" rx="2.8" fill="#fff" stroke-width="2.1"/>
<polyline points="839.2,525.8 839.2,536.8" stroke-width="2.44"/>
<polyline points="844.2,525.8 844.2,536.8" stroke-width="2.44"/>
<polyline points="913.8,526 913.8,537" stroke-width="2.44"/>
<polyline points="918.8,526 918.8,537" stroke-width="2.44"/>
<polyline points="901,541.5 932,523" stroke-width="1.38"/>
<path d="M901,541.5 l4.5,-0.5 l-2,-3.5 z" stroke-width="1.06" fill="#222"/>
<polyline points="791.2,680.3 791.2,820 795,825.5 807,826"/>
<path d="M788.0,571.84 L791.2,563.52 L794.4000000000001,571.84 L791.2,574.4 Z" stroke-width="1.38" fill="#888"/>
<polyline points="807,826 808.833,823.2 812.5,828.8 816.167,823.2 819.833,828.8 823.5,823.2 827.167,828.8 829,826" stroke-width="2.16"/>
<polyline points="829,826 851,825.5 855.5,821 855.5,700"/>
<polyline points="802.1,563 802.1,761.9 825.3,761.9 825.3,735.6"/>
<polyline points="813.7,563 813.7,601.5 844,601.5"/>
<circle cx="844.3" cy="601.8" r="2.4" fill="#222" stroke="none"/>
<path d="M833.0,571.12 L835.6,564.36 L838.2,571.12 L835.6,573.2 Z" stroke-width="1.38" fill="#888"/>
<circle cx="835.6" cy="680.3" r="2.4" fill="#222" stroke="none"/>
<polyline points="844.6,563 844.6,865 925,865.3"/>
<polyline points="925,865.5 926.458,862.7 929.375,868.3 932.292,862.7 935.208,868.3 938.125,862.7 941.042,868.3 942.5,865.5" stroke-width="2.29"/>
<polyline points="942.5,865.7 1098,866.2"/>
<polyline points="916.6,729.8 874.1,729.8"/>
<path d="M914.0,571.12 L916.6,564.36 L919.2,571.12 L916.6,573.2 Z" stroke-width="1.38" fill="#888"/>
<polyline points="926.2,563 926.2,794.7 941,794.7"/>
<polyline points="936.5,771.6 912,771.6" stroke-width="1.48"/>
<polyline points="878,623.8 879.283,621 881.85,626.6 884.417,621 886.983,626.6 889.55,621 892.117,626.6 893.4,623.8" stroke-width="2.16"/>
<path d="M1043.4,571.12 L1046,564.36 L1048.6,571.12 L1046,573.2 Z" stroke-width="1.38" fill="#888"/>
<circle cx="863.2" cy="623.8" r="2.3" fill="#222" stroke="none"/>
<circle cx="906.3" cy="623.8" r="2.3" fill="#222" stroke="none"/>
<circle cx="989.5" cy="623.8" r="2.6" fill="#222" stroke="none"/>
<circle cx="1004.5" cy="623.8" r="2.6" fill="#222" stroke="none"/>
<path d="M863.2,623.8 V606 q0,-5 5,-5 H878 M886.4,601 H901.3 q5,0 5,5 V623.8" stroke-width="1.59"/>
<path d="M878.5,596.5 h7 v9 h-7 z" stroke-width="1.38"/>
<polyline points="880.5,596.5 880.5,605.5" stroke-width="1.27"/>
<path d="M1083,641.8 q5.5,0 5.5,5.5 V783" stroke-width="1.59"/>
<polyline points="640,661.6 964.4,661.8 964.4,680.3" stroke-width="1.91"/>
<polyline points="878,661.8 879.442,659 882.325,664.6 885.208,659 888.092,664.6 890.975,659 893.858,664.6 895.3,661.8" stroke-width="2.16"/>
<circle cx="641.2" cy="681.3" r="2.4" fill="#222" stroke="none"/>
<circle cx="686.2" cy="681.3" r="2.4" fill="#222" stroke="none"/>
<circle cx="705.4" cy="681.3" r="2.4" fill="#222" stroke="none"/>
<circle cx="825.3" cy="681.3" r="2.4" fill="#222" stroke="none"/>
<circle cx="874.1" cy="681.3" r="2.4" fill="#222" stroke="none"/>
<circle cx="964.4" cy="681.3" r="2.4" fill="#222" stroke="none"/>
<circle cx="988.2" cy="681.3" r="2.4" fill="#222" stroke="none"/>
<circle cx="1011.4" cy="681.3" r="2.4" fill="#222" stroke="none"/>
<circle cx="1055" cy="681.3" r="2.4" fill="#222" stroke="none"/>
<circle cx="1136.9" cy="681.3" r="2.4" fill="#222" stroke="none"/>
<circle cx="1148.5" cy="681.3" r="2.4" fill="#222" stroke="none"/>
<circle cx="1159.4" cy="681.3" r="2.4" fill="#222" stroke="none"/>
<polyline points="1160,681.8 1181.9,681.8 1181.9,666" stroke-width="1.48"/>
<text x="893.5" y="453.5" font-size="10" letter-spacing="0" text-anchor="start" class="sans" font-weight="bold" fill="#333" stroke="none">A</text>
<text x="893.5" y="484.5" font-size="10" letter-spacing="0" text-anchor="start" class="sans" font-weight="bold" fill="#333" stroke="none">B</text>
<polygon points="919.2,446.86 919.2,452.74 910.8,449.8" fill="#222" stroke="none"/>
<polygon points="919.2,477.66 919.2,483.54 910.8,480.6" fill="#222" stroke="none"/>
<polyline points="915,449.8 941,449.8"/>
<polyline points="952,449.8 1111,449.8 1111,427"/>
<path d="M942,445 h8 v9.6 h-8 z M944,445 l5,4.8 l-5,4.8" stroke-width="1.48"/>
<polyline points="915,480.6 1170,480.9 1174.5,485 1174.5,505.6 1206,505.6"/>
<circle cx="908.9" cy="504.4" r="7" fill="#222"/>
<line x1="905" y1="507.5" x2="912.8" y2="501.3" stroke="#fff" stroke-width="1.5"/>
<rect x="989.1" y="418.5" width="19" height="8" rx="2.8" fill="#fff" stroke-width="2.1"/>
<rect x="1044.9" y="418.5" width="19" height="8" rx="2.8" fill="#fff" stroke-width="2.1"/>
<rect x="1098.3" y="418.5" width="19" height="8" rx="2.8" fill="#fff" stroke-width="2.1"/>
<text x="989.5" y="413" font-size="10" letter-spacing="3.5" text-anchor="start" class="sans" font-weight="bold" fill="#444" stroke="none">VI</text>
<text x="1044.5" y="413" font-size="10" letter-spacing="3.5" text-anchor="start" class="sans" font-weight="bold" fill="#444" stroke="none">VI</text>
<text x="1092.5" y="413" font-size="10" letter-spacing="3.5" text-anchor="start" class="sans" font-weight="bold" fill="#444" stroke="none">VII</text>
<ellipse cx="995.7" cy="432" rx="1.8" ry="2.8" fill="#222" stroke="none"/>
<ellipse cx="1004.7" cy="432" rx="1.8" ry="2.8" fill="#222" stroke="none"/>
<ellipse cx="1048.6" cy="432" rx="1.8" ry="2.8" fill="#222" stroke="none"/>
<ellipse cx="1058.9" cy="432" rx="1.8" ry="2.8" fill="#222" stroke="none"/>
<ellipse cx="1101.4" cy="432" rx="1.8" ry="2.8" fill="#222" stroke="none"/>
<ellipse cx="1111" cy="432" rx="1.8" ry="2.8" fill="#222" stroke="none"/>
<ellipse cx="802.1" cy="568.5" rx="1.8" ry="2.8" fill="#222" stroke="none"/>
<ellipse cx="813.7" cy="568.5" rx="1.8" ry="2.8" fill="#222" stroke="none"/>
<ellipse cx="844.6" cy="568.5" rx="1.8" ry="2.8" fill="#222" stroke="none"/>
<ellipse cx="855.5" cy="568.5" rx="1.8" ry="2.8" fill="#222" stroke="none"/>
<ellipse cx="926.2" cy="568.5" rx="1.8" ry="2.8" fill="#222" stroke="none"/>
<ellipse cx="936.5" cy="568.5" rx="1.8" ry="2.8" fill="#222" stroke="none"/>
<ellipse cx="1055" cy="568.5" rx="1.8" ry="2.8" fill="#222" stroke="none"/>
<ellipse cx="1066.6" cy="568.5" rx="1.8" ry="2.8" fill="#222" stroke="none"/>
<ellipse cx="1110.7" cy="568.5" rx="1.8" ry="2.8" fill="#222" stroke="none"/>
<ellipse cx="1119.6" cy="568.5" rx="1.8" ry="2.8" fill="#222" stroke="none"/>
<ellipse cx="254.5" cy="567.5" rx="1.8" ry="2.8" fill="#222" stroke="none"/>
<ellipse cx="265.6" cy="567.5" rx="1.8" ry="2.8" fill="#222" stroke="none"/>
<ellipse cx="323.6" cy="567.5" rx="1.8" ry="2.8" fill="#222" stroke="none"/>
<ellipse cx="333" cy="567.5" rx="1.8" ry="2.8" fill="#222" stroke="none"/>
<ellipse cx="631.2" cy="566" rx="1.8" ry="2.8" fill="#222" stroke="none"/>
<ellipse cx="642.5" cy="566" rx="1.8" ry="2.8" fill="#222" stroke="none"/>
<path d="M1012,434.1 L1015,426.3 L1018,434.1 L1015,436.5 Z" stroke-width="1.38" fill="#888"/>
<path d="M1066.2,434.1 L1069.2,426.3 L1072.2,434.1 L1069.2,436.5 Z" stroke-width="1.38" fill="#888"/>
<path d="M1118.9,434.1 L1121.9,426.3 L1124.9,434.1 L1121.9,436.5 Z" stroke-width="1.38" fill="#888"/>
<polyline points="995.7,427 995.7,525.2 1133.3,525.2 1133.3,626.3 1216,626.3"/>
<polyline points="1015,434 1015,508.5 1148.2,509.5 1148.2,586.6 1216,586.6"/>
<polyline points="1048.6,427 1048.6,517.3 1141.3,518.4 1141.3,606.3 1216,606.3"/>
<polyline points="1069.2,434 1069.2,502 1155.7,503 1155.7,567.3 1216,567.3"/>
<polyline points="1101.4,427 1101.4,494.3 1165.6,494.8 1165.6,536 1216,536"/>
<polyline points="1121.9,434 1121.9,463.8 1208,463.8 1208.6,477.3 1216.5,477.5"/>
<path d="M1241.91,482.52 A13.6,13.6 0 1 0 1241.91,495.28" stroke-width="2.65"/>
<path d="M1218.73,482.45 A12.9,12.9 0 0 0 1218.73,495.35" stroke-width="4.24"/>
<path d="M1218.14,485.30 A12.3,12.3 0 0 0 1218.14,492.50" stroke-width="5.51"/>
<circle cx="1235.1" cy="487.6" r="2" fill="#222" stroke="none"/>
<path d="M1241.91,521.02 A13.6,13.6 0 1 0 1241.91,533.78" stroke-width="2.65"/>
<path d="M1218.73,520.95 A12.9,12.9 0 0 0 1218.73,533.85" stroke-width="4.24"/>
<path d="M1218.14,523.80 A12.3,12.3 0 0 0 1218.14,531.00" stroke-width="5.51"/>
<circle cx="1235.1" cy="526.1" r="2" fill="#222" stroke="none"/>
<path d="M1241.21,571.82 A13.6,13.6 0 1 0 1241.21,584.58" stroke-width="2.65"/>
<path d="M1218.03,571.75 A12.9,12.9 0 0 0 1218.03,584.65" stroke-width="4.24"/>
<path d="M1217.44,574.60 A12.3,12.3 0 0 0 1217.44,581.80" stroke-width="5.51"/>
<polyline points="1231.2,578.2 1238.2,578.2" stroke-width="1.91"/>
<path d="M1240.61,610.12 A13.6,13.6 0 1 0 1240.61,622.88" stroke-width="2.65"/>
<path d="M1217.43,610.05 A12.9,12.9 0 0 0 1217.43,622.95" stroke-width="4.24"/>
<path d="M1216.84,612.90 A12.3,12.3 0 0 0 1216.84,620.10" stroke-width="5.51"/>
<polyline points="1230.6,616.5 1237.6,616.5" stroke-width="1.91"/>
<path d="M1205,501 l5,3.5 l-5,3.5 z" stroke-width="1.06" fill="#222"/>
<path d="M1208,503 q3,-7 9,-7 M1208,506 q3,8 9,8.5" stroke-width="1.17" stroke-dasharray="2 1.5"/>
<polyline points="1055,563 1055,766.5"/>
<path d="M1100.0,571.12 L1102.6,564.36 L1105.1999999999998,571.12 L1102.6,573.2 Z" stroke-width="1.38" fill="#888"/>
<circle cx="1084.8" cy="624.2" r="2.6" fill="#222" stroke="none"/>
<polyline points="1110.7,563 1110.7,782.1 1103,782.1"/>
<polyline points="1119.6,779.5 1168.5,780" stroke-width="1.59"/>
<circle cx="1120.5" cy="634.6" r="2.5" fill="#222" stroke="none"/>
<path d="M1120.5,634.6 H1143.5 q5,0 5,5 V646" stroke-width="1.59"/>
<rect x="1130" y="646.5" width="38" height="20.5" rx="10" fill="none" stroke-width="1.9"/>
<rect x="1134" y="650" width="30" height="14" rx="7" fill="none" stroke-width="1"/>
<circle cx="1141" cy="657.3" r="2.8" fill="#222" stroke="none"/>
<circle cx="1157" cy="657.3" r="2.8" fill="#222" stroke="none"/>
<polyline points="1148.5,668.5 1148.5,680.3"/>
<text x="1174" y="657" font-size="9" letter-spacing="1.5" text-anchor="start" class="sans" font-weight="bold" fill="#666" stroke="none">PV</text>
<polyline points="1177.4,664.9 1187,664.9" stroke-width="2.76"/>
<polyline points="1136.9,720 1133.9,721.75 1139.9,725.25 1133.9,728.75 1139.9,732.25 1133.9,735.75 1139.9,739.25 1136.9,741" stroke-width="2.29"/>
<polyline points="1136.9,804.6 1133.9,806.217 1139.9,809.45 1133.9,812.683 1139.9,815.917 1133.9,819.15 1139.9,822.383 1136.9,824" stroke-width="2.29"/>
<path d="M1136.9,824 V834 q0,5 -5,5 H1106" stroke-width="1.59"/>
<circle cx="1137.2" cy="770.5" r="2.6" fill="#222" stroke="none"/>
<polyline points="1137.2,770.5 1186,768.5" stroke-width="1.27"/>
<circle cx="1160.3" cy="760.2" r="2.5" fill="#222" stroke="none"/>
<circle cx="1171.3" cy="760.2" r="2.6" fill="none" stroke-width="1.27"/>
<circle cx="1171.3" cy="780.1" r="2.6" fill="none" stroke-width="1.27"/>
<path d="M1174,759 H1203 q5,0 5,5 V780" stroke-width="1.59"/>
<polyline points="1206,762 1206,780" stroke-width="3.82"/>
<polyline points="1186,768.5 1189,775 1193,779 1198,771 1203,779" stroke-width="1.48"/>
<polyline points="1174,780 1193,779.5" stroke-width="1.38"/>
<circle cx="1171.9" cy="841.2" r="2.6" fill="none" stroke-width="1.27"/>
<circle cx="1171.9" cy="851" r="2.6" fill="none" stroke-width="1.27"/>
<circle cx="1171.9" cy="860.5" r="2.6" fill="none" stroke-width="1.27"/>
<polyline points="1175,840.8 1207,840.8" stroke-width="1.59"/>
<polyline points="1206,841 1206,858" stroke-width="3.82"/>
<circle cx="1206.8" cy="858.6" r="2.6" fill="#222" stroke="none"/>
<polyline points="1175,850.5 1185,851 1186,857.5 1193,858.5 1197.5,850 1201,858.5" stroke-width="1.38"/>
<polyline points="1174.5,859.5 1186,858.5" stroke-width="1.27"/>
<text x="1099.5" y="854.5" font-size="8" letter-spacing="0" text-anchor="start" class="sans" font-weight="bold" fill="#555" stroke="none">B</text>
<circle cx="1116.6" cy="858.6" r="2.5" fill="none" stroke-width="1.27"/>
<circle cx="1103.8" cy="869" r="2" fill="none" stroke-width="1.17"/>
<circle cx="1103.1" cy="840.6" r="2.2" fill="none" stroke-width="1.17"/>
<polyline points="1098.6,865.8 1114.7,859.2" stroke-width="2.76"/>
<path d="M1116.5,847 q3.5,2 2.5,8" stroke-width="1.27"/>
<polyline points="1119.2,858.6 1140,858.6"/>
<polyline points="1141.7,853.1 1141.7,864.1" stroke-width="2.54"/>
<polyline points="1146.7,853.1 1146.7,864.1" stroke-width="2.54"/>
<polyline points="1148.5,858.6 1169,859.5"/>
<polyline points="785.4,760.7 797.4,760.7" stroke-width="2.44"/>
<polyline points="785.4,765.7 797.4,765.7" stroke-width="2.44"/>
<rect x="788" y="761.5" width="7" height="3.4" fill="#fff" stroke="none"/>
<circle cx="791.9" cy="796.6" r="2.6" fill="#222" stroke="none"/>
<polyline points="777.8,796.6 811,796.6"/>
<polyline points="811,796.6 812.5,793.8 815.5,799.4 818.5,793.8 821.5,799.4 824.5,793.8 827.5,799.4 829,796.6" stroke-width="2.29"/>
<polyline points="829,796.6 874,796.2" stroke-width="2.12"/>
<polyline points="874,796 889,795.5" stroke-width="2.33"/>
<circle cx="874.1" cy="796" r="3" fill="#222" stroke="none"/>
<circle cx="891.5" cy="795.4" r="2.8" fill="#666" stroke-width="1.06"/>
<polyline points="825.3,681.5 825.3,715"/>
<polyline points="825.3,715 822.1,716.717 828.5,720.15 822.1,723.583 828.5,727.017 822.1,730.45 828.5,733.883 825.3,735.6" stroke-width="2.54"/>
<polyline points="802.1,725.9 812,725.9" stroke-width="2.54"/>
<polygon points="800.28,724.6 803.92,724.6 802.1,719.4" fill="#222" stroke="none"/>
<circle cx="814.4" cy="725.9" r="2.3" fill="#222" stroke="none"/>
<polyline points="802.5,718 804,711" stroke-width="1.06" stroke-dasharray="2 2"/>
<polyline points="874.1,681.5 874.1,721.4"/>
<polyline points="874.1,721.4 870.9,723.067 877.3,726.4 870.9,729.733 877.3,733.067 870.9,736.4 877.3,739.733 874.1,741.4" stroke-width="2.54"/>
<polyline points="874.1,741.4 874.1,796"/>
<circle cx="892.8" cy="729.8" r="2.3" fill="#222" stroke="none"/>
<polyline points="892.8,729.8 892.8,775"/>
<circle cx="891.5" cy="778" r="2.6" fill="none" stroke-width="1.27"/>
<circle cx="906.9" cy="789" r="2.6" fill="none" stroke-width="1.27"/>
<circle cx="909.5" cy="774.8" r="2.6" fill="none" stroke-width="1.17"/>
<polyline points="889.6,779.5 906,787.6" stroke-width="3.18"/>
<polyline points="912,771.6 905,788" stroke-width="1.06" stroke-dasharray="2 2"/>
<text x="874" y="834.6" font-size="11" letter-spacing="4.1" text-anchor="start" class="mono" font-weight="bold" fill="#444" stroke="none">CRS-TLH</text>
<polyline points="964.7,681.5 964.7,753.6"/>
<polyline points="964.7,753.6 961.5,755.208 967.9,758.425 961.5,761.642 967.9,764.858 961.5,768.075 967.9,771.292 964.7,772.9" stroke-width="2.42"/>
<polyline points="964.7,772.9 964.7,827.5 1046.4,827.5 1046.4,806.5"/>
<circle cx="964.7" cy="730.4" r="2.6" fill="#222" stroke="none"/>
<circle cx="964.7" cy="794.7" r="2.6" fill="#222" stroke="none"/>
<polyline points="964.7,730.4 987.9,730.4" stroke-width="2.33"/>
<circle cx="987.9" cy="730.4" r="2.6" fill="#222" stroke="none"/>
<polyline points="943,789.2 943,800.2" stroke-width="2.54"/>
<polyline points="948,789.2 948,800.2" stroke-width="2.54"/>
<polyline points="950,794.7 964.7,794.7"/>
<circle cx="988.9" cy="644.4" r="2.5" fill="#222" stroke="none"/>
<polyline points="988.9,644.4 988.5,681.5"/>
<polyline points="983.9,663.5 993.9,663.5" stroke-width="2.33"/>
<path d="M983.9,669 q5.0,-6 10,0" stroke-width="1.59"/>
<polyline points="987.9,681.5 987.9,751"/>
<polyline points="982.9,705.8 992.9,705.8" stroke-width="2.33"/>
<path d="M982.9,711.3 q5.0,-6 10,0" stroke-width="1.59"/>
<polyline points="987.9,751 984.7,752.55 991.1,755.65 984.7,758.75 991.1,761.85 984.7,764.95 991.1,768.05 987.9,769.6" stroke-width="2.42"/>
<path d="M987.9,769.6 V782 q0,4.4 4.4,4.4 H1024.5" stroke-width="1.70"/>
<polyline points="1011.2,681.5 1011.2,786.4" stroke-width="2.12"/>
<circle cx="1011.2" cy="786.4" r="2.8" fill="#222" stroke="none"/>
<circle cx="1011.6" cy="730.4" r="4.6" fill="#777" stroke-width="1.27"/>
<circle cx="1045.1" cy="786.4" r="20.3" fill="none" stroke-width="2.65"/>
<polyline points="1036.1,776.4 1054.1,776.4" stroke-width="2.33"/>
<polyline points="1036.1,773.4 1036.1,776.4" stroke-width="1.27"/>
<polyline points="1054.1,773.4 1054.1,776.4" stroke-width="1.27"/>
<polyline points="1035.1,782.9 1056.1,782.9" stroke-width="1.59" stroke-dasharray="3 2.2"/>
<polyline points="1035.1,787.9 1056.1,787.9" stroke-width="1.59" stroke-dasharray="3 2.2"/>
<polyline points="1039.1,795.9 1051.1,795.9" stroke-width="3.18"/>
<circle cx="1056" cy="750.4" r="2.6" fill="#222" stroke="none"/>
<path d="M1056,750.4 H1072 q4.6,0 4.6,4.6 V786 q0,4.5 -4.5,4.5 H1064" stroke-width="2.12"/>
<polyline points="1065.5,783.1 1088.8,783.1"/>
<circle cx="1088.8" cy="783.1" r="2.6" fill="#222" stroke="none"/>
<polyline points="1088.3,783 1088.3,741.4"/>
<polyline points="1088.3,720.8 1085.1,722.517 1091.5,725.95 1085.1,729.383 1091.5,732.817 1085.1,736.25 1091.5,739.683 1088.3,741.4" stroke-width="2.42"/>
<polyline points="1088.3,720.8 1088.5,681.5"/>
<polyline points="1088.8,782.5 1095,782.3"/>
<polyline points="1097,776.7 1097,787.7" stroke-width="2.54"/>
<polyline points="1102,776.7 1102,787.7" stroke-width="2.54"/>
<polyline points="1103,782.1 1110.7,782.1"/>
<polyline points="761,796.3 777.8,796.6"/>
<polyline points="1160.3,760.2 1168.5,760.2"/>
</svg>
<svg class="c" width="1400" height="1400" viewBox="0 0 1400 1400" fill="none" stroke="#222" stroke-width="1.95" stroke-linecap="round" stroke-linejoin="round">
<polyline points="284,318.7 306,318.7 306,416" stroke="#a0a0a0" stroke-width="3.6"/>
<path d="M290,338 H295 q3.7,0 3.7,4 V416" stroke="#a0a0a0" stroke-width="3.6"/>
<polyline points="347.5,318.7 367.5,318.7" stroke="#a0a0a0" stroke-width="3.6"/>
<polyline points="377.5,318.7 400,318.7" stroke="#a0a0a0" stroke-width="3.6"/>
<polyline points="347.5,352.5 367.5,352.5" stroke="#a0a0a0" stroke-width="3.6"/>
<polyline points="377.5,352.5 400,352.5" stroke="#a0a0a0" stroke-width="3.6"/>
<polyline points="770,531.3 985,531.8" stroke="#a0a0a0" stroke-width="3.6"/>
<polyline points="985,531.8 989.5,535 989.5,623.8" stroke="#a0a0a0" stroke-width="3.6"/>
<polyline points="514.2,570 514.2,587.5" stroke="#a0a0a0" stroke-width="3.1"/>
<polyline points="631.2,561 631.2,592" stroke="#a0a0a0" stroke-width="3.1"/>
<polyline points="642.5,561 642.5,592" stroke="#a0a0a0" stroke-width="3.1"/>
<polyline points="620,566 620,590" stroke="#a0a0a0" stroke-width="2.9"/>
<polyline points="255.3,562 255.3,802" stroke="#a0a0a0" stroke-width="3.6"/>
<polyline points="273.8,596.6 279,596.6 378,596.6 379.5,601.5" stroke="#a0a0a0" stroke-width="3.4"/>
<polyline points="295.9,656 295.9,680.3" stroke="#a0a0a0" stroke-width="3.6"/>
<polyline points="333,562 333,777 298.5,777" stroke="#a0a0a0" stroke-width="3.6"/>
<polyline points="426.2,680.3 426.2,774" stroke="#a0a0a0" stroke-width="3.6"/>
<polyline points="402,605 627.5,605" stroke="#a0a0a0" stroke-width="4.3"/>
<polyline points="359.6,641.6 640,641.6" stroke="#a0a0a0" stroke-width="4.3"/>
<polyline points="255.3,802 234.6,802.5" stroke="#a0a0a0" stroke-width="3.6"/>
<polyline points="228,802.5 194,802.5" stroke="#a0a0a0" stroke-width="3.6"/>
<polyline points="234.6,818 278,818" stroke="#a0a0a0" stroke-width="3.6"/>
<polyline points="283.6,680.3 283.6,707.5" stroke="#a0a0a0" stroke-width="3.6"/>
<polyline points="283.6,727 283.6,747.9" stroke="#a0a0a0" stroke-width="2.9"/>
<polyline points="359.6,744 359.6,802" stroke="#a0a0a0" stroke-width="3.6"/>
<polyline points="375.3,680.3 375.3,805.5" stroke="#a0a0a0" stroke-width="3.6"/>
<polyline points="588,796.3 663.6,796.3" stroke="#a0a0a0" stroke-width="3.6"/>
<polyline points="641.2,680.3 641.2,830" stroke="#a0a0a0" stroke-width="3.6"/>
<polyline points="641.2,836 641.2,863.5" stroke="#a0a0a0" stroke-width="3.6"/>
<polyline points="663.6,736.5 685.8,736.5" stroke="#a0a0a0" stroke-width="4.3"/>
<polyline points="705.4,680.3 705.4,801.4" stroke="#a0a0a0" stroke-width="3.6"/>
<polyline points="791.2,571 791.2,680.3" stroke="#a0a0a0" stroke-width="3.6"/>
<polyline points="855.5,700 855.5,563" stroke="#a0a0a0" stroke-width="3.6"/>
<polyline points="835.6,571 835.6,680.3" stroke="#a0a0a0" stroke-width="3.6"/>
<polyline points="916.6,571 916.6,729.8" stroke="#a0a0a0" stroke-width="3.6"/>
<polyline points="936.5,563 936.5,771.6" stroke="#a0a0a0" stroke-width="3.6"/>
<polyline points="766.2,623.7 878,623.8" stroke="#a0a0a0" stroke-width="3.6"/>
<polyline points="893.4,623.8 1040,623.8" stroke="#a0a0a0" stroke-width="3.6"/>
<path d="M1040,623.8 q6,0 6,-6 V571" stroke="#a0a0a0" stroke-width="3.6"/>
<polyline points="427,661.5 640,661.6" stroke="#a0a0a0" stroke-width="4.1"/>
<polyline points="1004.7,427 1004.7,623.8" stroke="#a0a0a0" stroke-width="3.6"/>
<path d="M1058.9,427 V490 q0,4.6 4.6,4.6 H1080 q5,0 5,5 V623.8" stroke="#a0a0a0" stroke-width="3.6"/>
<path d="M1066.6,563 V619 q0,5 5,5 H1097.6 q5,0 5,-5 V571" stroke="#a0a0a0" stroke-width="3.6"/>
<polyline points="1119.6,563 1119.6,779.5" stroke="#a0a0a0" stroke-width="3.6"/>
<polyline points="1136.9,680.3 1136.9,720" stroke="#a0a0a0" stroke-width="3.6"/>
<polyline points="1136.9,741 1136.9,804.6" stroke="#a0a0a0" stroke-width="3.6"/>
<polyline points="1159.6,680.3 1159.6,840.6 1169,840.8" stroke="#a0a0a0" stroke-width="3.6"/>
<ellipse cx="272" cy="249.5" rx="4.2" ry="8.2" fill="#fff" stroke-width="3"/>
<polyline points="261.8,245.7 267.5,245.7" stroke-width="2.97"/>
<polyline points="261.8,253.6 267.5,253.6" stroke-width="2.97"/>
<polyline points="277,245.3 400,244.8 400,420"/>
<polyline points="277,253.8 311,254 313.5,256.5 313.5,295 144,295 144,327.5 161,327.5"/>
<circle cx="164" cy="328" r="2.2" fill="none" stroke-width="1.27"/>
<circle cx="184" cy="328" r="2.2" fill="none" stroke-width="1.27"/>
<circle cx="195" cy="328" r="2.2" fill="none" stroke-width="1.27"/>
<circle cx="213.5" cy="328" r="2.2" fill="none" stroke-width="1.27"/>
<path d="M166,328 q3,-5 6,0 t6,2 t5,-2" stroke-width="1.70"/>
<polyline points="186,328 193,328" stroke-width="1.27"/>
<polyline points="196,328.5 213,337.5" stroke-width="2.12"/>
<polyline points="215.5,327.5 228.5,327.5" stroke-width="1.17"/>
<polyline points="213,338 234,338"/>
<polyline points="214,338 214,401.5 271,401.5 271,418 276,426"/>
<circle cx="258" cy="338" r="30" fill="none" stroke-width="2.12"/>
<circle cx="245" cy="320.5" r="2.4" fill="none" stroke-width="1.38"/>
<circle cx="269.5" cy="319.5" r="2.4" fill="#222" stroke-width="1.38"/>
<circle cx="234.5" cy="338" r="2.4" fill="none" stroke-width="1.38"/>
<circle cx="280" cy="338.5" r="2.4" fill="none" stroke-width="1.38"/>
<circle cx="270.5" cy="357" r="2.4" fill="none" stroke-width="1.38"/>
<circle cx="258" cy="338" r="2.4" fill="none" stroke-width="1.38"/>
<polyline points="258,338.5 246,359.5" stroke-width="3.39" stroke-dasharray="5 1.2"/>
<polyline points="232,327.3 257,337" stroke-width="1.59"/>
<polyline points="232,327.3 237,329.3" stroke-width="3.18"/>
<polyline points="245,311.5 245,304 313,304 313,416"/>
<polyline points="271,319 284,318.7"/>
<polyline points="282.5,338 290,338"/>
<polyline points="272.5,357 297,357"/>
<circle cx="297.5" cy="357" r="2.3" fill="#222" stroke="none"/>
<polyline points="245,367 245,390 281.5,390 281.5,416"/>
<polyline points="237.5,412.5 249,412.5" stroke-width="3.18"/>
<polyline points="242.5,414 242.5,430"/>
<polyline points="244,431 272,431" stroke-width="1.38" stroke-dasharray="2 2"/>
<polyline points="273,425.7 424,425.7" stroke-width="2.33"/>
<polyline points="276,428.7 427,428.7" stroke-width="2.33"/>
<polyline points="280,431.7 427,431.7" stroke-width="2.12"/>
<ellipse cx="282" cy="419.5" rx="3.6" ry="4" fill="none" stroke-width="1.4"/>
<ellipse cx="289.786" cy="419.5" rx="3.6" ry="4" fill="none" stroke-width="1.4"/>
<ellipse cx="297.571" cy="419.5" rx="3.6" ry="4" fill="none" stroke-width="1.4"/>
<ellipse cx="305.357" cy="419.5" rx="3.6" ry="4" fill="none" stroke-width="1.4"/>
<ellipse cx="313.143" cy="419.5" rx="3.6" ry="4" fill="none" stroke-width="1.4"/>
<ellipse cx="320.929" cy="419.5" rx="3.6" ry="4" fill="none" stroke-width="1.4"/>
<ellipse cx="328.714" cy="419.5" rx="3.6" ry="4" fill="none" stroke-width="1.4"/>
<ellipse cx="336.5" cy="419.5" rx="3.6" ry="4" fill="none" stroke-width="1.4"/>
<ellipse cx="344.286" cy="419.5" rx="3.6" ry="4" fill="none" stroke-width="1.4"/>
<ellipse cx="352.071" cy="419.5" rx="3.6" ry="4" fill="none" stroke-width="1.4"/>
<ellipse cx="359.857" cy="419.5" rx="3.6" ry="4" fill="none" stroke-width="1.4"/>
<ellipse cx="367.643" cy="419.5" rx="3.6" ry="4" fill="none" stroke-width="1.4"/>
<ellipse cx="375.429" cy="419.5" rx="3.6" ry="4" fill="none" stroke-width="1.4"/>
<ellipse cx="383.214" cy="419.5" rx="3.6" ry="4" fill="none" stroke-width="1.4"/>
<ellipse cx="391" cy="419.5" rx="3.6" ry="4" fill="none" stroke-width="1.4"/>
<circle cx="282" cy="416" r="2.3" fill="#222" stroke="none"/>
<circle cx="297.5" cy="416" r="2.3" fill="#222" stroke="none"/>
<circle cx="305.5" cy="416" r="2.3" fill="#222" stroke="none"/>
<circle cx="313" cy="416" r="2.3" fill="#222" stroke="none"/>
<polyline points="395,420 400,416"/>
<ellipse cx="289" cy="440" rx="2.88" ry="3.2" fill="none" stroke-width="1.4"/>
<ellipse cx="321" cy="440" rx="3.15" ry="3.5" fill="none" stroke-width="1.4"/>
<ellipse cx="354" cy="441" rx="3.24" ry="3.6" fill="none" stroke-width="1.4"/>
<ellipse cx="361.111" cy="441" rx="3.24" ry="3.6" fill="none" stroke-width="1.4"/>
<ellipse cx="368.222" cy="441" rx="3.24" ry="3.6" fill="none" stroke-width="1.4"/>
<ellipse cx="375.333" cy="441" rx="3.24" ry="3.6" fill="none" stroke-width="1.4"/>
<ellipse cx="382.444" cy="441" rx="3.24" ry="3.6" fill="none" stroke-width="1.4"/>
<ellipse cx="389.556" cy="441" rx="3.24" ry="3.6" fill="none" stroke-width="1.4"/>
<ellipse cx="396.667" cy="441" rx="3.24" ry="3.6" fill="none" stroke-width="1.4"/>
<ellipse cx="403.778" cy="441" rx="3.24" ry="3.6" fill="none" stroke-width="1.4"/>
<ellipse cx="410.889" cy="441" rx="3.24" ry="3.6" fill="none" stroke-width="1.4"/>
<ellipse cx="418" cy="441" rx="3.24" ry="3.6" fill="none" stroke-width="1.4"/>
<polyline points="343.7,437 343.7,680.3"/>
<polyline points="343.7,437 351,437"/>
<polyline points="426.2,437 426.2,600"/>
<polyline points="368.5,312.7 368.5,324.7" stroke-width="3.18"/>
<polyline points="374.5,312.7 374.5,324.7" stroke-width="3.18"/>
<polyline points="368.5,346.5 368.5,358.5" stroke-width="3.18"/>
<polyline points="374.5,346.5 374.5,358.5" stroke-width="3.18"/>
<circle cx="347.5" cy="318.7" r="2.3" fill="#222" stroke="none"/>
<circle cx="347.5" cy="352.5" r="2.3" fill="#222" stroke="none"/>
<circle cx="400" cy="318.7" r="2.3" fill="#222" stroke="none"/>
<circle cx="400" cy="352.5" r="2.3" fill="#222" stroke="none"/>
<circle cx="400" cy="382.5" r="2.3" fill="#222" stroke="none"/>
<circle cx="346.5" cy="336" r="2.5" fill="none" stroke-width="1.27"/>
<polyline points="347.5,318.7 347.5,333"/>
<polyline points="347.5,339 347.5,372"/>
<circle cx="347.5" cy="382.5" r="10" fill="none" stroke-width="2.12"/>
<polyline points="312.5,382.5 337.5,382.5"/>
<circle cx="313" cy="382.5" r="2.3" fill="#222" stroke="none"/>
<polyline points="357.5,382.5 400,382.5"/>
<text x="341" y="292.5" font-size="12.5" letter-spacing="3.3" text-anchor="start" class="mono" font-weight="normal" fill="#555" stroke="none">1978</text>
<circle cx="426.2" cy="441" r="2.3" fill="#222" stroke="none"/>
<circle cx="426.2" cy="486" r="2.3" fill="#222" stroke="none"/>
<circle cx="426.2" cy="502.5" r="2.3" fill="#222" stroke="none"/>
<circle cx="426.2" cy="541" r="2.3" fill="#222" stroke="none"/>
<path d="M421,459 h10.5 l-5.2,5 z M421,466 h10.5 l-5.2,-5 z" stroke-width="1.27" fill="#222"/>
<polyline points="426.2,442.5 448.7,442.5 448.7,458"/>
<polyline points="448.7,465 448.7,486 426.2,486"/>
<polyline points="442.7,459 454.7,459" stroke-width="2.76"/>
<polyline points="442.7,464 454.7,464" stroke-width="2.76"/>
<text x="359.5" y="476.5" font-size="12.5" letter-spacing="3.1" text-anchor="start" class="mono" font-weight="normal" fill="#555" stroke="none">04277</text>
<polyline points="343.7,502.5 381,502.5"/>
<polyline points="389,502.5 426.2,502.5"/>
<circle cx="343.7" cy="502.5" r="2.3" fill="#222" stroke="none"/>
<path d="M382,497.5 h6 v10 h-6 z" stroke-width="1.48"/>
<polyline points="343.7,541 380,541"/>
<polyline points="388,541 426.2,541"/>
<circle cx="343.7" cy="541" r="2.3" fill="#222" stroke="none"/>
<path d="M380,536 q5,5 0,10 M384,536 h3 q4,5 0,10 h-3" stroke-width="1.38"/>
<polyline points="426.2,515 423.6,516.062 428.8,518.188 423.6,520.312 428.8,522.438 423.6,524.562 428.8,526.688 423.6,528.812 428.8,530.938 426.2,532" stroke-width="1.78"/>
<polyline points="426.2,551 423.6,552.312 428.8,554.938 423.6,557.562 428.8,560.188 423.6,562.812 428.8,565.438 423.6,568.062 428.8,570.688 426.2,572" stroke-width="1.78"/>
<circle cx="146" cy="491" r="9" fill="none" stroke-width="1.70"/>
<circle cx="146" cy="491" r="4.5" fill="none" stroke-width="1.27"/>
<circle cx="200" cy="491" r="9" fill="none" stroke-width="1.70"/>
<circle cx="203" cy="491" r="4.5" fill="none" stroke-width="1.27"/>
<polyline points="156,483 156,464 209,464 209,480"/>
<polyline points="156,499 156,514 187.5,514 187.5,524"/>
<circle cx="187.5" cy="526" r="2.5" fill="#222" stroke="none"/>
<polyline points="209,480 280,480"/>
<polyline points="209,502.5 299,502.5"/>
<polyline points="209,480 209,523"/>
<polygon points="206.55,521.5 211.45,521.5 209,528.5" fill="#222" stroke="none"/>
<circle cx="209" cy="480" r="2.3" fill="#222" stroke="none"/>
<circle cx="209" cy="502.5" r="2.3" fill="#222" stroke="none"/>
<circle cx="237.5" cy="480" r="2.2" fill="#222" stroke="none"/>
<circle cx="237.5" cy="502.5" r="2.2" fill="#222" stroke="none"/>
<polyline points="237.5,480 240,484 235,488 240,492 235,496 240,499 237.5,502.5" stroke-width="1.70"/>
<circle cx="260" cy="480" r="2.2" fill="#222" stroke="none"/>
<circle cx="260" cy="502.5" r="2.2" fill="#222" stroke="none"/>
<polyline points="260,480 262.5,484 257.5,488 262.5,492 257.5,496 262.5,499 260,502.5" stroke-width="1.70"/>
<circle cx="279" cy="480" r="2.2" fill="#222" stroke="none"/>
<circle cx="279" cy="502.5" r="2.2" fill="#222" stroke="none"/>
<polyline points="279,480 281.5,484 276.5,488 281.5,492 276.5,496 281.5,499 279,502.5" stroke-width="1.70"/>
<polyline points="284,502.5 284,521"/>
<polygon points="281.76,519.8 286.24,519.8 284,526.2" fill="#222" stroke="none"/>
<polyline points="247.5,459 261,459" stroke-width="3.39"/>
<polyline points="255,461 255,474 321,474 321,461"/>
<circle cx="289" cy="474" r="2" fill="#222" stroke="none"/>
<path d="M279,436 v66 M299,436 v66 M279,436 q10,-7 20,0" stroke-width="1.59"/>
<polyline points="289,444 289,474" stroke-width="1.27"/>
<path d="M310,438 q11,-8 22.5,0 v46 l-11,10 l-11.5,-10 z" stroke-width="1.70"/>
<polyline points="310,459 332.5,459" stroke-width="2.33"/>
<circle cx="321" cy="459" r="2.6" fill="#222" stroke="none"/>
<circle cx="309" cy="510" r="5.5" fill="#222"/>
<line x1="306" y1="512.5" x2="312" y2="507.5" stroke="#fff" stroke-width="1.3"/>
<circle cx="267.5" cy="524" r="5.5" fill="#222"/>
<line x1="264.5" y1="526.5" x2="270.5" y2="521.5" stroke="#fff" stroke-width="1.3"/>
<text x="165" y="546.8" font-size="11" letter-spacing="4.1" text-anchor="start" class="mono" font-weight="bold" fill="#444" stroke="none">HBR-CST</text>
<polyline points="483.7,463.7 483.7,386.2 686.2,386.2 686.2,740"/>
<circle cx="483.7" cy="411.2" r="2.3" fill="#222" stroke="none"/>
<circle cx="483.7" cy="463.7" r="2.3" fill="#222" stroke="none"/>
<polyline points="483.7,411.2 469,411.2"/>
<polygon points="472,409.1 472,413.3 466,411.2" fill="#222" stroke="none"/>
<polyline points="483.7,463.7 469,463.7"/>
<polygon points="472,461.6 472,465.8 466,463.7" fill="#222" stroke="none"/>
<polyline points="483.7,411.2 483.7,435"/>
<polyline points="483.7,442 483.7,463.7"/>
<polyline points="476.7,436.2 490.7,436.2" stroke-width="2.76"/>
<polyline points="476.7,441.2 490.7,441.2" stroke-width="2.76"/>
<polyline points="483.7,411.2 503,411.2 507,416"/>
<polyline points="483.7,463.7 503,463.7 507,460"/>
<ellipse cx="507" cy="421" rx="5" ry="3.6" fill="none" stroke-width="1.4"/>
<ellipse cx="507" cy="428.2" rx="5" ry="3.6" fill="none" stroke-width="1.4"/>
<ellipse cx="507" cy="435.4" rx="5" ry="3.6" fill="none" stroke-width="1.4"/>
<ellipse cx="507" cy="442.6" rx="5" ry="3.6" fill="none" stroke-width="1.4"/>
<ellipse cx="507" cy="449.8" rx="5" ry="3.6" fill="none" stroke-width="1.4"/>
<ellipse cx="507" cy="457" rx="5" ry="3.6" fill="none" stroke-width="1.4"/>
<polyline points="525,410 686.2,410"/>
<circle cx="686.2" cy="410" r="2.3" fill="#222" stroke="none"/>
<circle cx="592.5" cy="410" r="2.3" fill="#222" stroke="none"/>
<polyline points="525,410 521,414"/>
<ellipse cx="521" cy="418" rx="5" ry="3.6" fill="none" stroke-width="1.3"/>
<ellipse cx="521" cy="425.2" rx="5" ry="3.6" fill="none" stroke-width="1.3"/>
<ellipse cx="521" cy="432.4" rx="5" ry="3.6" fill="none" stroke-width="1.3"/>
<ellipse cx="521" cy="439.6" rx="5" ry="3.6" fill="none" stroke-width="1.3"/>
<ellipse cx="521" cy="446.8" rx="5" ry="3.6" fill="none" stroke-width="1.3"/>
<ellipse cx="521" cy="454" rx="5" ry="3.6" fill="none" stroke-width="1.3"/>
<ellipse cx="521" cy="461.2" rx="5" ry="3.6" fill="none" stroke-width="1.3"/>
<ellipse cx="521" cy="468.4" rx="5" ry="3.6" fill="none" stroke-width="1.3"/>
<ellipse cx="521" cy="475.6" rx="5" ry="3.6" fill="none" stroke-width="1.3"/>
<ellipse cx="521" cy="482.8" rx="5" ry="3.6" fill="none" stroke-width="1.3"/>
<ellipse cx="521" cy="490" rx="5" ry="3.6" fill="none" stroke-width="1.3"/>
<ellipse cx="521" cy="497.2" rx="5" ry="3.6" fill="none" stroke-width="1.3"/>
<ellipse cx="521" cy="504.4" rx="5" ry="3.6" fill="none" stroke-width="1.3"/>
<ellipse cx="521" cy="511.6" rx="5" ry="3.6" fill="none" stroke-width="1.3"/>
<ellipse cx="521" cy="518.8" rx="5" ry="3.6" fill="none" stroke-width="1.3"/>
<ellipse cx="521" cy="526" rx="5" ry="3.6" fill="none" stroke-width="1.3"/>
<ellipse cx="529" cy="418" rx="5" ry="3.6" fill="none" stroke-width="1.3"/>
<ellipse cx="529" cy="425.2" rx="5" ry="3.6" fill="none" stroke-width="1.3"/>
<ellipse cx="529" cy="432.4" rx="5" ry="3.6" fill="none" stroke-width="1.3"/>
<ellipse cx="529" cy="439.6" rx="5" ry="3.6" fill="none" stroke-width="1.3"/>
<ellipse cx="529" cy="446.8" rx="5" ry="3.6" fill="none" stroke-width="1.3"/>
<ellipse cx="529" cy="454" rx="5" ry="3.6" fill="none" stroke-width="1.3"/>
<ellipse cx="529" cy="461.2" rx="5" ry="3.6" fill="none" stroke-width="1.3"/>
<ellipse cx="529" cy="468.4" rx="5" ry="3.6" fill="none" stroke-width="1.3"/>
<ellipse cx="529" cy="475.6" rx="5" ry="3.6" fill="none" stroke-width="1.3"/>
<ellipse cx="529" cy="482.8" rx="5" ry="3.6" fill="none" stroke-width="1.3"/>
<ellipse cx="529" cy="490" rx="5" ry="3.6" fill="none" stroke-width="1.3"/>
<ellipse cx="529" cy="497.2" rx="5" ry="3.6" fill="none" stroke-width="1.3"/>
<ellipse cx="529" cy="504.4" rx="5" ry="3.6" fill="none" stroke-width="1.3"/>
<ellipse cx="529" cy="511.6" rx="5" ry="3.6" fill="none" stroke-width="1.3"/>
<ellipse cx="529" cy="518.8" rx="5" ry="3.6" fill="none" stroke-width="1.3"/>
<ellipse cx="529" cy="526" rx="5" ry="3.6" fill="none" stroke-width="1.3"/>
<polyline points="533.7,435 572.5,435 572.5,586.2 536.2,586.2 536.2,568"/>
<circle cx="533" cy="435" r="2" fill="#222" stroke="none"/>
<polyline points="532.5,475 643.7,475 643.7,464"/>
<circle cx="532.5" cy="475" r="2.3" fill="#222" stroke="none"/>
<circle cx="592.5" cy="475" r="2.3" fill="#222" stroke="none"/>
<polyline points="592.5,410 592.5,440"/>
<polyline points="592.5,447 592.5,475"/>
<polyline points="585.5,441.2 599.5,441.2" stroke-width="2.76"/>
<polyline points="585.5,446.2 599.5,446.2" stroke-width="2.76"/>
<polyline points="613.7,410 613.7,424"/>
<polyline points="613.7,431 613.7,495 640,495"/>
<polyline points="606.7,425 620.7,425" stroke-width="2.76"/>
<polyline points="606.7,430 620.7,430" stroke-width="2.76"/>
<polyline points="640,495 641.458,492.5 644.375,497.5 647.292,492.5 650.208,497.5 653.125,492.5 656.042,497.5 657.5,495" stroke-width="1.91"/>
<polyline points="657.5,495 686.2,495"/>
<circle cx="686.2" cy="495" r="2.3" fill="#222" stroke="none"/>
<circle cx="613.7" cy="445" r="2.3" fill="#222" stroke="none"/>
<circle cx="643.7" cy="443.7" r="20" fill="none" stroke-width="2.65"/>
<polyline points="635.7,435.7 651.7,435.7" stroke-width="2.54"/>
<polyline points="636.7,432.7 636.7,435.7" stroke-width="1.27"/>
<polyline points="650.7,432.7 650.7,435.7" stroke-width="1.27"/>
<polyline points="632.7,444.7 654.7,444.7" stroke-width="1.59" stroke-dasharray="2.5 2.2"/>
<polyline points="636.7,452.7 650.7,452.7" stroke-width="3.18"/>
<polyline points="635.7,449.7 651.7,449.7" stroke-width="1.17"/>
<polyline points="613.7,445 632,445"/>
<polyline points="652.5,428 652.5,410"/>
<text x="590.5" y="517.3" font-size="11" letter-spacing="4.1" text-anchor="start" class="mono" font-weight="bold" fill="#444" stroke="none">HTL-LHR</text>
<polyline points="526,528 530,531.2 770,531.3"/>
<polyline points="711.2,623.7 711.2,496.2 726,496.2"/>
<polyline points="727,491.2 727,501.2" stroke-width="2.76"/>
<polyline points="732,491.2 732,501.2" stroke-width="2.76"/>
<polyline points="733,496.2 747,496.2"/>
<circle cx="749" cy="496.5" r="2" fill="none" stroke-width="1.27"/>
<polyline points="750,496 770,487" stroke-width="2.12"/>
<circle cx="766" cy="485" r="2.2" fill="none" stroke-width="1.38"/>
<circle cx="766.2" cy="505" r="2.4" fill="none" stroke-width="1.38"/>
<polyline points="766.2,507.5 766.2,623.7"/>
<circle cx="711.2" cy="595" r="2.3" fill="#222" stroke="none"/>
<circle cx="711.2" cy="623.7" r="2.3" fill="#222" stroke="none"/>
<circle cx="766.2" cy="595" r="2.3" fill="#222" stroke="none"/>
<circle cx="766.2" cy="623.7" r="2.3" fill="#222" stroke="none"/>
<polyline points="711.2,595 733,595"/>
<polyline points="742,595 766.2,595"/>
<path d="M734.5,590.5 h6 v9 h-6 z" stroke-width="1.38"/>
<polyline points="733,590 733,600" stroke-width="1.27"/>
<polyline points="742,590 742,600" stroke-width="1.27"/>
<text x="512.5" y="556.5" font-size="10.5" letter-spacing="4.2" text-anchor="start" class="mono" font-weight="normal" fill="#555" stroke="none">567</text>
<circle cx="514" cy="566" r="2.2" fill="none" stroke-width="1.27"/>
<circle cx="526.2" cy="566" r="2.2" fill="#222" stroke="none"/>
<circle cx="536.2" cy="566" r="2.2" fill="#222" stroke="none"/>
<polyline points="526.2,566 526.2,661.2"/>
<circle cx="526.2" cy="661.2" r="2.3" fill="#222" stroke="none"/>
<rect x="628" y="552.5" width="19" height="8" rx="2.8" fill="#fff" stroke-width="2.1"/>
<circle cx="631.2" cy="586" r="1.8" fill="#222" stroke="none"/>
<circle cx="642.5" cy="586" r="1.8" fill="#222" stroke="none"/>
<path d="M617.4,567.12 L620,560.36 L622.6,567.12 L620,569.2 Z" stroke-width="1.38" fill="#888"/>
<text x="627" y="604.5" font-size="11" letter-spacing="4" text-anchor="start" class="mono" font-weight="normal" fill="#555" stroke="none">DC</text>
<polyline points="631.2,604 631.2,777"/>
<rect x="250.5" y="554" width="19" height="8" rx="2.8" fill="#fff" stroke-width="2.1"/>
<rect x="319" y="554" width="19" height="8" rx="2.8" fill="#fff" stroke-width="2.1"/>
<circle cx="243.8" cy="566.5" r="2" fill="none" stroke-width="1.17"/>
<circle cx="313.2" cy="566.5" r="2" fill="none" stroke-width="1.17"/>
<polyline points="243.8,569 243.8,589.5 359.6,589.5 359.6,724"/>
<circle cx="359.6" cy="641.6" r="2.3" fill="#222" stroke="none"/>
<polyline points="265.6,562 265.6,593.5"/>
<circle cx="265.6" cy="601.7" r="8.2" fill="none" stroke-width="1.70"/>
<polyline points="262,604 269,600" stroke-width="1.38"/>
<text x="240.5" y="602.5" font-size="8" letter-spacing="0" text-anchor="start" class="mono" font-weight="bold" fill="#3a3a3a" stroke="none">M</text>
<polyline points="279,596.6 279,614.6 265.6,614.6" stroke-width="1.48"/>
<polyline points="265.6,610 265.6,625"/>
<polyline points="265.6,632 265.6,647.4 272,647.4"/>
<path d="M261,625 h9 l-4.5,3.5 z M261,632 h9 l-4.5,-3.5 z" stroke-width="1.27" fill="#222"/>
<circle cx="279" cy="635.8" r="6.6" fill="#222"/>
<line x1="275.5" y1="638.5" x2="282.5" y2="633" stroke="#fff" stroke-width="1.4"/>
<path d="M271,646 q3,-2 5,1 t5,2 q2,-1 1,-6" stroke-width="2.97"/>
<polyline points="282,648 291,647" stroke-width="1.27"/>
<polyline points="295.9,638 293.3,639.125 298.5,641.375 293.3,643.625 298.5,645.875 293.3,648.125 298.5,650.375 293.3,652.625 298.5,654.875 295.9,656" stroke-width="1.91"/>
<polyline points="295.9,638 295.9,631.5 333.8,631.5"/>
<circle cx="333.8" cy="631.5" r="2.3" fill="#222" stroke="none"/>
<polyline points="313.2,569 313.2,662 267.8,662 267.8,850 234.6,850"/>
<polyline points="323.6,562 323.6,797 399,797"/>
<circle cx="343.7" cy="578" r="2.3" fill="#222" stroke="none"/>
<circle cx="343.7" cy="680.3" r="2.3" fill="#222" stroke="none"/>
<polyline points="343.7,578 390,578"/>
<path d="M390.5,572.5 h5 q3.5,0 3.5,3 v5 q0,3 -3.5,3 h-5 z" stroke-width="1.48"/>
<polyline points="400,578 424,578" stroke-width="1.17" stroke-dasharray="3 2"/>
<circle cx="426.2" cy="578" r="2.3" fill="#222" stroke="none"/>
<polyline points="426.2,578 455,578 458.6,581 458.6,615"/>
<polyline points="458.6,615 455.6,616.25 461.6,618.75 455.6,621.25 461.6,623.75 455.6,626.25 461.6,628.75 458.6,630" stroke-width="2.29"/>
<polyline points="458.6,630 458.6,800 475.5,800"/>
<polyline points="426.2,600 426.2,680.3"/>
<polyline points="344,589.5 359.6,589.5"/>
<circle cx="379.5" cy="604.4" r="2.5" fill="none" stroke-width="1.27"/>
<circle cx="399.4" cy="604.4" r="2.5" fill="none" stroke-width="1.27"/>
<circle cx="387.9" cy="615.3" r="2.5" fill="none" stroke-width="1.27"/>
<polyline points="388.5,614 396.5,599" stroke-width="2.54"/>
<text x="376.5" y="618" font-size="8" letter-spacing="0" text-anchor="start" class="mono" font-weight="bold" fill="#3a3a3a" stroke="none">C</text>
<polyline points="391,615 592,615" stroke-width="1.59" stroke-dasharray="4.5 5"/>
<polyline points="592,615 751.7,681.7 1102,839.3" stroke-width="1.59" stroke-dasharray="4.5 5"/>
<polyline points="387.9,618 387.9,776.6 392,778"/>
<polyline points="640,641.6 1083,641.8" stroke-width="1.91"/>
<circle cx="407.4" cy="641.6" r="2.3" fill="#222" stroke="none"/>
<polyline points="407.4,641.6 407.4,654"/>
<polyline points="407.4,654 404.4,655.375 410.4,658.125 404.4,660.875 410.4,663.625 404.4,666.375 410.4,669.125 407.4,670.5" stroke-width="2.04"/>
<polyline points="407.4,670.5 407.4,680.3"/>
<circle cx="427" cy="661.5" r="2.3" fill="#222" stroke="none"/>
<polyline points="711.2,623.7 491.5,623.7 491.5,800"/>
<polyline points="230.6,680.3 700,680.9 1160,681.8" stroke-width="2.86"/>
<circle cx="231.2" cy="680.3" r="2.5" fill="#222" stroke="none"/>
<circle cx="255" cy="680.3" r="2.5" fill="#222" stroke="none"/>
<circle cx="267.8" cy="680.3" r="2.5" fill="#222" stroke="none"/>
<circle cx="283.6" cy="680.3" r="2.5" fill="#222" stroke="none"/>
<circle cx="297" cy="680.3" r="2.5" fill="#222" stroke="none"/>
<circle cx="344" cy="680.3" r="2.5" fill="#222" stroke="none"/>
<circle cx="375.3" cy="680.3" r="2.5" fill="#222" stroke="none"/>
<circle cx="387.9" cy="680.3" r="2.5" fill="#222" stroke="none"/>
<circle cx="407.4" cy="680.3" r="2.5" fill="#222" stroke="none"/>
<circle cx="475.3" cy="680.3" r="2.5" fill="#222" stroke="none"/>
<path d="M186.2,636.7 L200.4,650.2 V662.4 L186.2,674 Z" stroke-width="2.33"/>
<path d="M243.4,712.6 V648 q0,-5 -5,-5 H210 q-5,0 -5,5 V660 q0,5 5,5 H218.4 V681 H230.6" stroke-width="1.59"/>
<polyline points="206,654 215,654" stroke-width="2.76"/>
<polyline points="243.4,712.6 217.7,712.6 217.7,722"/>
<polyline points="231.2,680.3 231.2,701.5"/>
<circle cx="231.2" cy="704.2" r="2.4" fill="none" stroke-width="1.17"/>
<circle cx="231.2" cy="713" r="2.4" fill="none" stroke-width="1.17"/>
<circle cx="231.2" cy="722.2" r="2.4" fill="none" stroke-width="1.17"/>
<polyline points="196.5,703.5 196.5,724.5" stroke-width="4.45"/>
<polyline points="195,725 203,725" stroke-width="2.12"/>
<polyline points="201,702.5 229,702.5" stroke-width="1.27"/>
<polyline points="205,709 203,716 208,721.5 229,722.5" stroke-width="1.38"/>
<polyline points="202,723 242.3,723 242.3,839 202.5,839" stroke-width="1.59"/>
<circle cx="230.8" cy="803" r="2.6" fill="none" stroke-width="1.27"/>
<polyline points="196,803.5 196,818.5" stroke-width="4.66"/>
<circle cx="196" cy="819.5" r="2.6" fill="#222" stroke="none"/>
<polyline points="205.7,808 203.1,813.3 209.6,817.1 228,818.4" stroke-width="1.38"/>
<circle cx="230.8" cy="819" r="2.6" fill="none" stroke-width="1.27"/>
<polyline points="278,818 279.633,815.2 282.9,820.8 286.167,815.2 289.433,820.8 292.7,815.2 295.967,820.8 297.6,818" stroke-width="2.16"/>
<polyline points="298,818 311,818" stroke-width="1.17" stroke-dasharray="2 2"/>
<circle cx="311.3" cy="818.2" r="2.6" fill="#222" stroke="none"/>
<polyline points="214.1,819 214.1,849" stroke-width="1.17" stroke-dasharray="2.5 2"/>
<polyline points="194,841.5 201.5,841.5" stroke-width="3.39"/>
<polyline points="198,842 198,853" stroke-width="3.18"/>
<polyline points="194,857.6 201,857.6" stroke-width="2.65"/>
<polyline points="201.2,850 228,850"/>
<circle cx="230.8" cy="850" r="2.6" fill="none" stroke-width="1.27"/>
<path d="M228.5,839 l2.3,3.5 l2.3,-3.5 z M228.5,865 l2.3,-3.5 l2.3,3.5 z" stroke-width="1.06"/>
<path d="M201,858 H306 q5.3,0 5.3,-5 V753 q0,-5 -5,-5 H284" stroke-width="1.70"/>
<circle cx="284" cy="747.9" r="2.6" fill="#222" stroke="none"/>
<polyline points="283.6,707.5 280.6,709.125 286.6,712.375 280.6,715.625 286.6,718.875 280.6,722.125 286.6,725.375 283.6,727" stroke-width="2.16"/>
<polyline points="284,750 284,766" stroke-width="1.17" stroke-dasharray="2 2"/>
<circle cx="284" cy="769" r="2.5" fill="none" stroke-width="1.27"/>
<circle cx="296.4" cy="777.3" r="2.5" fill="none" stroke-width="1.27"/>
<circle cx="284" cy="786.5" r="2.5" fill="none" stroke-width="1.27"/>
<polyline points="268,785.6 294.5,776.6" stroke-width="2.54"/>
<circle cx="311.5" cy="776.8" r="2" fill="#222" stroke="none"/>
<path d="M359.6,724 q5,2.5 0,5 q5,2.5 0,5 q5,2.5 0,5 q5,2.5 0,5" stroke-width="2.54"/>
<path d="M359.6,724 q-4,2.5 0,5 q-4,2.5 0,5 q-4,2.5 0,5 q-4,2.5 0,5" stroke-width="1.70"/>
<polyline points="359.6,802 362,805 392.6,805.5"/>
<circle cx="375.3" cy="805.5" r="2.3" fill="#222" stroke="none"/>
<polyline points="369.5,760.5 381,760.5" stroke-width="2.33"/>
<path d="M369.5,765.5 q5.7,-5 11.5,0" stroke-width="1.48"/>
<path d="M387.9,770 V774 q0,3 4,4 q7.5,2 7.5,9.6 q0,9.5 -8,9.5" stroke-width="1.59"/>
<path d="M392,806 q7.5,0 7.5,8 q0,10.8 -7,10.8 H349.5 V889.7 H602.6 V766.5" stroke-width="1.59"/>
<circle cx="393.2" cy="788.8" r="2.3" fill="none" stroke-width="1.17"/>
<circle cx="392.6" cy="815.8" r="2.3" fill="none" stroke-width="1.17"/>
<polyline points="402.9,776.6 402.9,825.4" stroke-width="1.59"/>
<polyline points="406.1,776.6 406.1,825.4" stroke-width="1.59"/>
<ellipse cx="415" cy="786" rx="5" ry="3.78" fill="none" stroke-width="1.4"/>
<ellipse cx="415" cy="793.75" rx="5" ry="3.78" fill="none" stroke-width="1.4"/>
<ellipse cx="415" cy="801.5" rx="5" ry="3.78" fill="none" stroke-width="1.4"/>
<ellipse cx="415" cy="809.25" rx="5" ry="3.78" fill="none" stroke-width="1.4"/>
<ellipse cx="415" cy="817" rx="5" ry="3.78" fill="none" stroke-width="1.4"/>
<path d="M415,782 q-3,-8 5,-8 H440 q4.6,0 4.6,4.6 V821 q0,5 -5,5 H420 q-8,0 -5,-5" stroke-width="1.59"/>
<circle cx="426.2" cy="774" r="2.3" fill="#222" stroke="none"/>
<circle cx="426.5" cy="826" r="2.3" fill="#222" stroke="none"/>
<polyline points="436.3,798.75 448.3,798.75" stroke-width="2.54"/>
<polyline points="436.3,803.25 448.3,803.25" stroke-width="2.54"/>
<polyline points="426.5,826 426.5,863.5 777.8,863.5 777.8,730 750.4,730"/>
<polyline points="475.4,680.3 475.4,799.5"/>
<circle cx="475.4" cy="799.5" r="2.3" fill="#222" stroke="none"/>
<polyline points="469.9,740 480.9,740" stroke-width="2.33"/>
<path d="M469.9,745.5 q5.5,-6 11,0" stroke-width="1.59"/>
<polyline points="475.5,799.5 513,799.5"/>
<polyline points="491.5,800 491.5,863.5"/>
<circle cx="492" cy="863.5" r="2.3" fill="#222" stroke="none"/>
<rect x="487" y="830" width="10.5" height="10" fill="#777" stroke="#555" stroke-width="1"/>
<polyline points="510.7,680.3 510.7,760.3 557.6,760.3 557.6,712.7 593.6,712.7 593.6,727"/>
<circle cx="510.7" cy="680.3" r="2.5" fill="#222" stroke="none"/>
<path d="M505,721 q6,-5 11,0 M505,726.5 q6,-5 11,0 q1,3 -2,4" stroke-width="1.70"/>
<polyline points="543.5,680.3 543.5,709.5"/>
<polyline points="543.5,709.5 540.5,711.267 546.5,714.8 540.5,718.333 546.5,721.867 540.5,725.4 546.5,728.933 543.5,730.7" stroke-width="2.16"/>
<polyline points="543.5,730.7 543.5,781"/>
<circle cx="543.5" cy="680.3" r="2.5" fill="#222" stroke="none"/>
<circle cx="543.5" cy="761" r="2.8" fill="#222" stroke="none"/>
<polyline points="570.5,680.3 570.5,740.4"/>
<polyline points="570.5,740.4 567.5,741.95 573.5,745.05 567.5,748.15 573.5,751.25 567.5,754.35 573.5,757.45 570.5,759" stroke-width="2.16"/>
<polyline points="570.5,759 570.5,796.3"/>
<circle cx="570.5" cy="680.3" r="2.5" fill="#222" stroke="none"/>
<circle cx="570.5" cy="796.3" r="2.6" fill="#222" stroke="none"/>
<circle cx="533.2" cy="800.1" r="20.3" fill="none" stroke-width="2.65"/>
<polyline points="524.2,790.1 542.2,790.1" stroke-width="2.33"/>
<polyline points="524.2,787.1 524.2,790.1" stroke-width="1.27"/>
<polyline points="542.2,787.1 542.2,790.1" stroke-width="1.27"/>
<polyline points="523.2,796.6 544.2,796.6" stroke-width="1.59" stroke-dasharray="3 2.2"/>
<polyline points="523.2,801.6 544.2,801.6" stroke-width="1.59" stroke-dasharray="3 2.2"/>
<polyline points="527.2,809.6 539.2,809.6" stroke-width="3.18"/>
<polyline points="553.5,796.3 580,796.3"/>
<polyline points="581.5,790.8 581.5,801.8" stroke-width="2.44"/>
<polyline points="586.5,790.8 586.5,801.8" stroke-width="2.44"/>
<polyline points="533.7,820.5 533.7,863.5"/>
<circle cx="533.7" cy="863.5" r="2.3" fill="#222" stroke="none"/>
<polyline points="550.5,858 550.5,869" stroke-width="2.33"/>
<polyline points="555.5,858 555.5,869" stroke-width="2.33"/>
<polyline points="571,863.5 572.5,860.7 575.5,866.3 578.5,860.7 581.5,866.3 584.5,860.7 587.5,866.3 589,863.5" stroke-width="2.16"/>
<polyline points="690,863.5 691.458,860.7 694.375,866.3 697.292,860.7 700.208,866.3 703.125,860.7 706.042,866.3 707.5,863.5" stroke-width="2.16"/>
<polyline points="476,889.7 477.583,886.9 480.75,892.5 483.917,886.9 487.083,892.5 490.25,886.9 493.417,892.5 495,889.7" stroke-width="2.16"/>
<circle cx="601.4" cy="746.1" r="20.3" fill="none" stroke-width="2.65"/>
<polyline points="592.4,736.1 610.4,736.1" stroke-width="2.33"/>
<polyline points="592.4,733.1 592.4,736.1" stroke-width="1.27"/>
<polyline points="610.4,733.1 610.4,736.1" stroke-width="1.27"/>
<polyline points="589.4,746.6 613.4,746.6" stroke-width="1.59" stroke-dasharray="3 2.2"/>
<polyline points="595.4,755.6 607.4,755.6" stroke-width="3.18"/>
<circle cx="602.6" cy="777" r="2.5" fill="#222" stroke="none"/>
<polyline points="602.6,777 631.4,777"/>
<circle cx="631.4" cy="745.5" r="2.5" fill="#222" stroke="none"/>
<polyline points="622,745.8 631.4,745.5" stroke-width="1.27"/>
<circle cx="641.2" cy="680.3" r="2.5" fill="#222" stroke="none"/>
<circle cx="641.2" cy="863.5" r="2.3" fill="#222" stroke="none"/>
<polyline points="634.5,830.95 647.5,830.95" stroke-width="2.33"/>
<polyline points="634.5,835.45 647.5,835.45" stroke-width="2.33"/>
<circle cx="663.6" cy="661.5" r="2.5" fill="#222" stroke="none"/>
<polyline points="663.6,661.5 663.6,756.4"/>
<polyline points="663.6,756.4 660.6,758.008 666.6,761.225 660.6,764.442 666.6,767.658 660.6,770.875 666.6,774.092 663.6,775.7" stroke-width="2.16"/>
<polyline points="663.6,775.7 663.6,841.2 741.3,841.2 741.3,822"/>
<circle cx="663.6" cy="736.5" r="2.6" fill="#222" stroke="none"/>
<circle cx="663.6" cy="796.3" r="2.6" fill="#222" stroke="none"/>
<circle cx="685.8" cy="736.5" r="2.6" fill="#222" stroke="none"/>
<circle cx="686.2" cy="680.3" r="2.5" fill="#222" stroke="none"/>
<polyline points="685.8,757.7 682.8,759.308 688.8,762.525 682.8,765.742 688.8,768.958 682.8,772.175 688.8,775.392 685.8,777" stroke-width="2.16"/>
<polyline points="686.2,740 685.8,757.7"/>
<polyline points="685.8,777 685.8,801.4 721,801.4"/>
<circle cx="705.4" cy="801.4" r="2.8" fill="#222" stroke="none"/>
<ellipse cx="686" cy="710" rx="6.5" ry="3.6" fill="#fff" stroke-width="1.5"/>
<polyline points="681.5,710 690.5,710" stroke-width="1.70"/>
<circle cx="705.4" cy="680.3" r="2.5" fill="#222" stroke="none"/>
<polyline points="699.9,746 710.9,746" stroke-width="2.33"/>
<path d="M699.9,751.5 q5.5,-6 11,0" stroke-width="1.59"/>
<circle cx="751" cy="680.3" r="2.8" fill="#222" stroke="none"/>
<polyline points="750.4,680.3 750.4,781"/>
<polyline points="750.4,688 747.6,689.375 753.2,692.125 747.6,694.875 753.2,697.625 750.4,699" stroke-width="2.54"/>
<polyline points="750.4,711 747.6,712.375 753.2,715.125 747.6,717.875 753.2,720.625 750.4,722" stroke-width="2.54"/>
<polyline points="750.4,739.5 747.6,741.188 753.2,744.562 747.6,747.938 753.2,751.312 750.4,753" stroke-width="2.54"/>
<circle cx="750.4" cy="730" r="2.5" fill="#222" stroke="none"/>
<circle cx="750.4" cy="761.6" r="2.5" fill="#222" stroke="none"/>
<path d="M750.4,730 H731 q-4.4,0 -4.4,4 V757.6 q0,4 4,4 H750.4" stroke-width="1.59"/>
<rect x="722" y="744" width="10" height="8" fill="#fff" stroke="none"/>
<polyline points="721.3,746 732.3,746" stroke-width="2.33"/>
<path d="M721.3,751.5 q5.5,-6 11,0" stroke-width="1.59"/>
<polyline points="714.4,700.5 714.4,703.7 722,703.7"/>
<polygon points="712.3,700.5 716.5,700.5 714.4,694.5" fill="#222" stroke="none"/>
<polyline points="722,703.7 723.417,701.1 726.25,706.3 729.083,701.1 731.917,706.3 734.75,701.1 737.583,706.3 739,703.7" stroke-width="2.16"/>
<polyline points="739,703.7 750.4,704.4"/>
<circle cx="740.8" cy="802.1" r="20.3" fill="none" stroke-width="2.65"/>
<polyline points="731.8,792.1 749.8,792.1" stroke-width="2.33"/>
<polyline points="731.8,789.1 731.8,792.1" stroke-width="1.27"/>
<polyline points="749.8,789.1 749.8,792.1" stroke-width="1.27"/>
<polyline points="730.8,798.6 751.8,798.6" stroke-width="1.59" stroke-dasharray="3 2.2"/>
<polyline points="730.8,803.6 751.8,803.6" stroke-width="1.59" stroke-dasharray="3 2.2"/>
<polyline points="734.8,811.6 746.8,811.6" stroke-width="3.18"/>
<circle cx="751.7" cy="681.2" r="1" fill="#222" stroke="none"/>
<polyline points="572.5,661.5 573.958,658.7 576.875,664.3 579.792,658.7 582.708,664.3 585.625,658.7 588.542,664.3 590,661.5" stroke-width="2.16"/>
<polyline points="731,623.7 732.583,620.9 735.75,626.5 738.917,620.9 742.083,626.5 745.25,620.9 748.417,626.5 750,623.7" stroke-width="2.16"/>
<polyline points="711.2,623.7 731,623.7"/>
<polyline points="750,623.7 766.2,623.7"/>
<rect x="798.8" y="555" width="19" height="8" rx="2.8" fill="#fff" stroke-width="2.1"/>
<rect x="840.9" y="555" width="19" height="8" rx="2.8" fill="#fff" stroke-width="2.1"/>
<rect x="921.9" y="555" width="19" height="8" rx="2.8" fill="#fff" stroke-width="2.1"/>
<rect x="1052.3" y="555" width="19" height="8" rx="2.8" fill="#fff" stroke-width="2.1"/>
<rect x="1106.8" y="555" width="19" height="8" rx="2.8" fill="#fff" stroke-width="2.1"/>
<polyline points="839.2,525.8 839.2,536.8" stroke-width="2.44"/>
<polyline points="844.2,525.8 844.2,536.8" stroke-width="2.44"/>
<polyline points="913.8,526 913.8,537" stroke-width="2.44"/>
<polyline points="918.8,526 918.8,537" stroke-width="2.44"/>
<polyline points="901,541.5 932,523" stroke-width="1.38"/>
<path d="M901,541.5 l4.5,-0.5 l-2,-3.5 z" stroke-width="1.06" fill="#222"/>
<polyline points="791.2,680.3 791.2,820 795,825.5 807,826"/>
<path d="M788.0,571.84 L791.2,563.52 L794.4000000000001,571.84 L791.2,574.4 Z" stroke-width="1.38" fill="#888"/>
<polyline points="807,826 808.833,823.2 812.5,828.8 816.167,823.2 819.833,828.8 823.5,823.2 827.167,828.8 829,826" stroke-width="2.16"/>
<polyline points="829,826 851,825.5 855.5,821 855.5,700"/>
<polyline points="802.1,563 802.1,761.9 825.3,761.9 825.3,735.6"/>
<polyline points="813.7,563 813.7,601.5 844,601.5"/>
<circle cx="844.3" cy="601.8" r="2.4" fill="#222" stroke="none"/>
<path d="M833.0,571.12 L835.6,564.36 L838.2,571.12 L835.6,573.2 Z" stroke-width="1.38" fill="#888"/>
<circle cx="835.6" cy="680.3" r="2.4" fill="#222" stroke="none"/>
<polyline points="844.6,563 844.6,865 925,865.3"/>
<polyline points="925,865.5 926.458,862.7 929.375,868.3 932.292,862.7 935.208,868.3 938.125,862.7 941.042,868.3 942.5,865.5" stroke-width="2.29"/>
<polyline points="942.5,865.7 1098,866.2"/>
<polyline points="916.6,729.8 874.1,729.8"/>
<path d="M914.0,571.12 L916.6,564.36 L919.2,571.12 L916.6,573.2 Z" stroke-width="1.38" fill="#888"/>
<polyline points="926.2,563 926.2,794.7 941,794.7"/>
<polyline points="936.5,771.6 912,771.6" stroke-width="1.48"/>
<polyline points="878,623.8 879.283,621 881.85,626.6 884.417,621 886.983,626.6 889.55,621 892.117,626.6 893.4,623.8" stroke-width="2.16"/>
<path d="M1043.4,571.12 L1046,564.36 L1048.6,571.12 L1046,573.2 Z" stroke-width="1.38" fill="#888"/>
<circle cx="863.2" cy="623.8" r="2.3" fill="#222" stroke="none"/>
<circle cx="906.3" cy="623.8" r="2.3" fill="#222" stroke="none"/>
<circle cx="989.5" cy="623.8" r="2.6" fill="#222" stroke="none"/>
<circle cx="1004.5" cy="623.8" r="2.6" fill="#222" stroke="none"/>
<path d="M863.2,623.8 V606 q0,-5 5,-5 H878 M886.4,601 H901.3 q5,0 5,5 V623.8" stroke-width="1.59"/>
<path d="M878.5,596.5 h7 v9 h-7 z" stroke-width="1.38"/>
<polyline points="880.5,596.5 880.5,605.5" stroke-width="1.27"/>
<path d="M1083,641.8 q5.5,0 5.5,5.5 V783" stroke-width="1.59"/>
<polyline points="640,661.6 964.4,661.8 964.4,680.3" stroke-width="1.91"/>
<polyline points="878,661.8 879.442,659 882.325,664.6 885.208,659 888.092,664.6 890.975,659 893.858,664.6 895.3,661.8" stroke-width="2.16"/>
<circle cx="641.2" cy="681.3" r="2.4" fill="#222" stroke="none"/>
<circle cx="686.2" cy="681.3" r="2.4" fill="#222" stroke="none"/>
<circle cx="705.4" cy="681.3" r="2.4" fill="#222" stroke="none"/>
<circle cx="825.3" cy="681.3" r="2.4" fill="#222" stroke="none"/>
<circle cx="874.1" cy="681.3" r="2.4" fill="#222" stroke="none"/>
<circle cx="964.4" cy="681.3" r="2.4" fill="#222" stroke="none"/>
<circle cx="988.2" cy="681.3" r="2.4" fill="#222" stroke="none"/>
<circle cx="1011.4" cy="681.3" r="2.4" fill="#222" stroke="none"/>
<circle cx="1055" cy="681.3" r="2.4" fill="#222" stroke="none"/>
<circle cx="1136.9" cy="681.3" r="2.4" fill="#222" stroke="none"/>
<circle cx="1148.5" cy="681.3" r="2.4" fill="#222" stroke="none"/>
<circle cx="1159.4" cy="681.3" r="2.4" fill="#222" stroke="none"/>
<polyline points="1160,681.8 1181.9,681.8 1181.9,666" stroke-width="1.48"/>
<text x="893.5" y="453.5" font-size="10" letter-spacing="0" text-anchor="start" class="sans" font-weight="bold" fill="#333" stroke="none">A</text>
<text x="893.5" y="484.5" font-size="10" letter-spacing="0" text-anchor="start" class="sans" font-weight="bold" fill="#333" stroke="none">B</text>
<polygon points="919.2,446.86 919.2,452.74 910.8,449.8" fill="#222" stroke="none"/>
<polygon points="919.2,477.66 919.2,483.54 910.8,480.6" fill="#222" stroke="none"/>
<polyline points="915,449.8 941,449.8"/>
<polyline points="952,449.8 1111,449.8 1111,427"/>
<path d="M942,445 h8 v9.6 h-8 z M944,445 l5,4.8 l-5,4.8" stroke-width="1.48"/>
<polyline points="915,480.6 1170,480.9 1174.5,485 1174.5,505.6 1206,505.6"/>
<circle cx="908.9" cy="504.4" r="7" fill="#222"/>
<line x1="905" y1="507.5" x2="912.8" y2="501.3" stroke="#fff" stroke-width="1.5"/>
<rect x="989.1" y="418.5" width="19" height="8" rx="2.8" fill="#fff" stroke-width="2.1"/>
<rect x="1044.9" y="418.5" width="19" height="8" rx="2.8" fill="#fff" stroke-width="2.1"/>
<rect x="1098.3" y="418.5" width="19" height="8" rx="2.8" fill="#fff" stroke-width="2.1"/>
<text x="989.5" y="413" font-size="10" letter-spacing="3.5" text-anchor="start" class="sans" font-weight="bold" fill="#444" stroke="none">VI</text>
<text x="1044.5" y="413" font-size="10" letter-spacing="3.5" text-anchor="start" class="sans" font-weight="bold" fill="#444" stroke="none">VI</text>
<text x="1092.5" y="413" font-size="10" letter-spacing="3.5" text-anchor="start" class="sans" font-weight="bold" fill="#444" stroke="none">VII</text>
<ellipse cx="995.7" cy="432" rx="1.8" ry="2.8" fill="#222" stroke="none"/>
<ellipse cx="1004.7" cy="432" rx="1.8" ry="2.8" fill="#222" stroke="none"/>
<ellipse cx="1048.6" cy="432" rx="1.8" ry="2.8" fill="#222" stroke="none"/>
<ellipse cx="1058.9" cy="432" rx="1.8" ry="2.8" fill="#222" stroke="none"/>
<ellipse cx="1101.4" cy="432" rx="1.8" ry="2.8" fill="#222" stroke="none"/>
<ellipse cx="1111" cy="432" rx="1.8" ry="2.8" fill="#222" stroke="none"/>
<ellipse cx="802.1" cy="568.5" rx="1.8" ry="2.8" fill="#222" stroke="none"/>
<ellipse cx="813.7" cy="568.5" rx="1.8" ry="2.8" fill="#222" stroke="none"/>
<ellipse cx="844.6" cy="568.5" rx="1.8" ry="2.8" fill="#222" stroke="none"/>
<ellipse cx="855.5" cy="568.5" rx="1.8" ry="2.8" fill="#222" stroke="none"/>
<ellipse cx="926.2" cy="568.5" rx="1.8" ry="2.8" fill="#222" stroke="none"/>
<ellipse cx="936.5" cy="568.5" rx="1.8" ry="2.8" fill="#222" stroke="none"/>
<ellipse cx="1055" cy="568.5" rx="1.8" ry="2.8" fill="#222" stroke="none"/>
<ellipse cx="1066.6" cy="568.5" rx="1.8" ry="2.8" fill="#222" stroke="none"/>
<ellipse cx="1110.7" cy="568.5" rx="1.8" ry="2.8" fill="#222" stroke="none"/>
<ellipse cx="1119.6" cy="568.5" rx="1.8" ry="2.8" fill="#222" stroke="none"/>
<ellipse cx="254.5" cy="567.5" rx="1.8" ry="2.8" fill="#222" stroke="none"/>
<ellipse cx="265.6" cy="567.5" rx="1.8" ry="2.8" fill="#222" stroke="none"/>
<ellipse cx="323.6" cy="567.5" rx="1.8" ry="2.8" fill="#222" stroke="none"/>
<ellipse cx="333" cy="567.5" rx="1.8" ry="2.8" fill="#222" stroke="none"/>
<ellipse cx="631.2" cy="566" rx="1.8" ry="2.8" fill="#222" stroke="none"/>
<ellipse cx="642.5" cy="566" rx="1.8" ry="2.8" fill="#222" stroke="none"/>
<path d="M1012,434.1 L1015,426.3 L1018,434.1 L1015,436.5 Z" stroke-width="1.38" fill="#888"/>
<path d="M1066.2,434.1 L1069.2,426.3 L1072.2,434.1 L1069.2,436.5 Z" stroke-width="1.38" fill="#888"/>
<path d="M1118.9,434.1 L1121.9,426.3 L1124.9,434.1 L1121.9,436.5 Z" stroke-width="1.38" fill="#888"/>
<polyline points="995.7,427 995.7,525.2 1133.3,525.2 1133.3,626.3 1216,626.3"/>
<polyline points="1015,434 1015,508.5 1148.2,509.5 1148.2,586.6 1216,586.6"/>
<polyline points="1048.6,427 1048.6,517.3 1141.3,518.4 1141.3,606.3 1216,606.3"/>
<polyline points="1069.2,434 1069.2,502 1155.7,503 1155.7,567.3 1216,567.3"/>
<polyline points="1101.4,427 1101.4,494.3 1165.6,494.8 1165.6,536 1216,536"/>
<polyline points="1121.9,434 1121.9,463.8 1208,463.8 1208.6,477.3 1216.5,477.5"/>
<path d="M1241.91,482.52 A13.6,13.6 0 1 0 1241.91,495.28" stroke-width="2.65"/>
<path d="M1218.73,482.45 A12.9,12.9 0 0 0 1218.73,495.35" stroke-width="4.24"/>
<path d="M1218.14,485.30 A12.3,12.3 0 0 0 1218.14,492.50" stroke-width="5.51"/>
<circle cx="1235.1" cy="487.6" r="2" fill="#222" stroke="none"/>
<path d="M1241.91,521.02 A13.6,13.6 0 1 0 1241.91,533.78" stroke-width="2.65"/>
<path d="M1218.73,520.95 A12.9,12.9 0 0 0 1218.73,533.85" stroke-width="4.24"/>
<path d="M1218.14,523.80 A12.3,12.3 0 0 0 1218.14,531.00" stroke-width="5.51"/>
<circle cx="1235.1" cy="526.1" r="2" fill="#222" stroke="none"/>
<path d="M1241.21,571.82 A13.6,13.6 0 1 0 1241.21,584.58" stroke-width="2.65"/>
<path d="M1218.03,571.75 A12.9,12.9 0 0 0 1218.03,584.65" stroke-width="4.24"/>
<path d="M1217.44,574.60 A12.3,12.3 0 0 0 1217.44,581.80" stroke-width="5.51"/>
<polyline points="1231.2,578.2 1238.2,578.2" stroke-width="1.91"/>
<path d="M1240.61,610.12 A13.6,13.6 0 1 0 1240.61,622.88" stroke-width="2.65"/>
<path d="M1217.43,610.05 A12.9,12.9 0 0 0 1217.43,622.95" stroke-width="4.24"/>
<path d="M1216.84,612.90 A12.3,12.3 0 0 0 1216.84,620.10" stroke-width="5.51"/>
<polyline points="1230.6,616.5 1237.6,616.5" stroke-width="1.91"/>
<path d="M1205,501 l5,3.5 l-5,3.5 z" stroke-width="1.06" fill="#222"/>
<path d="M1208,503 q3,-7 9,-7 M1208,506 q3,8 9,8.5" stroke-width="1.17" stroke-dasharray="2 1.5"/>
<polyline points="1055,563 1055,766.5"/>
<path d="M1100.0,571.12 L1102.6,564.36 L1105.1999999999998,571.12 L1102.6,573.2 Z" stroke-width="1.38" fill="#888"/>
<circle cx="1084.8" cy="624.2" r="2.6" fill="#222" stroke="none"/>
<polyline points="1110.7,563 1110.7,782.1 1103,782.1"/>
<polyline points="1119.6,779.5 1168.5,780" stroke-width="1.59"/>
<circle cx="1120.5" cy="634.6" r="2.5" fill="#222" stroke="none"/>
<path d="M1120.5,634.6 H1143.5 q5,0 5,5 V646" stroke-width="1.59"/>
<rect x="1130" y="646.5" width="38" height="20.5" rx="10" fill="none" stroke-width="1.9"/>
<rect x="1134" y="650" width="30" height="14" rx="7" fill="none" stroke-width="1"/>
<circle cx="1141" cy="657.3" r="2.8" fill="#222" stroke="none"/>
<circle cx="1157" cy="657.3" r="2.8" fill="#222" stroke="none"/>
<polyline points="1148.5,668.5 1148.5,680.3"/>
<text x="1174" y="657" font-size="9" letter-spacing="1.5" text-anchor="start" class="sans" font-weight="bold" fill="#666" stroke="none">PV</text>
<polyline points="1177.4,664.9 1187,664.9" stroke-width="2.76"/>
<polyline points="1136.9,720 1133.9,721.75 1139.9,725.25 1133.9,728.75 1139.9,732.25 1133.9,735.75 1139.9,739.25 1136.9,741" stroke-width="2.29"/>
<polyline points="1136.9,804.6 1133.9,806.217 1139.9,809.45 1133.9,812.683 1139.9,815.917 1133.9,819.15 1139.9,822.383 1136.9,824" stroke-width="2.29"/>
<path d="M1136.9,824 V834 q0,5 -5,5 H1106" stroke-width="1.59"/>
<circle cx="1137.2" cy="770.5" r="2.6" fill="#222" stroke="none"/>
<polyline points="1137.2,770.5 1186,768.5" stroke-width="1.27"/>
<circle cx="1160.3" cy="760.2" r="2.5" fill="#222" stroke="none"/>
<circle cx="1171.3" cy="760.2" r="2.6" fill="none" stroke-width="1.27"/>
<circle cx="1171.3" cy="780.1" r="2.6" fill="none" stroke-width="1.27"/>
<path d="M1174,759 H1203 q5,0 5,5 V780" stroke-width="1.59"/>
<polyline points="1206,762 1206,780" stroke-width="3.82"/>
<polyline points="1186,768.5 1189,775 1193,779 1198,771 1203,779" stroke-width="1.48"/>
<polyline points="1174,780 1193,779.5" stroke-width="1.38"/>
<circle cx="1171.9" cy="841.2" r="2.6" fill="none" stroke-width="1.27"/>
<circle cx="1171.9" cy="851" r="2.6" fill="none" stroke-width="1.27"/>
<circle cx="1171.9" cy="860.5" r="2.6" fill="none" stroke-width="1.27"/>
<polyline points="1175,840.8 1207,840.8" stroke-width="1.59"/>
<polyline points="1206,841 1206,858" stroke-width="3.82"/>
<circle cx="1206.8" cy="858.6" r="2.6" fill="#222" stroke="none"/>
<polyline points="1175,850.5 1185,851 1186,857.5 1193,858.5 1197.5,850 1201,858.5" stroke-width="1.38"/>
<polyline points="1174.5,859.5 1186,858.5" stroke-width="1.27"/>
<text x="1099.5" y="854.5" font-size="8" letter-spacing="0" text-anchor="start" class="sans" font-weight="bold" fill="#555" stroke="none">B</text>
<circle cx="1116.6" cy="858.6" r="2.5" fill="none" stroke-width="1.27"/>
<circle cx="1103.8" cy="869" r="2" fill="none" stroke-width="1.17"/>
<circle cx="1103.1" cy="840.6" r="2.2" fill="none" stroke-width="1.17"/>
<polyline points="1098.6,865.8 1114.7,859.2" stroke-width="2.76"/>
<path d="M1116.5,847 q3.5,2 2.5,8" stroke-width="1.27"/>
<polyline points="1119.2,858.6 1140,858.6"/>
<polyline points="1141.7,853.1 1141.7,864.1" stroke-width="2.54"/>
<polyline points="1146.7,853.1 1146.7,864.1" stroke-width="2.54"/>
<polyline points="1148.5,858.6 1169,859.5"/>
<polyline points="785.4,760.7 797.4,760.7" stroke-width="2.44"/>
<polyline points="785.4,765.7 797.4,765.7" stroke-width="2.44"/>
<rect x="788" y="761.5" width="7" height="3.4" fill="#fff" stroke="none"/>
<circle cx="791.9" cy="796.6" r="2.6" fill="#222" stroke="none"/>
<polyline points="777.8,796.6 811,796.6"/>
<polyline points="811,796.6 812.5,793.8 815.5,799.4 818.5,793.8 821.5,799.4 824.5,793.8 827.5,799.4 829,796.6" stroke-width="2.29"/>
<polyline points="829,796.6 874,796.2" stroke-width="2.12"/>
<polyline points="874,796 889,795.5" stroke-width="2.33"/>
<circle cx="874.1" cy="796" r="3" fill="#222" stroke="none"/>
<circle cx="891.5" cy="795.4" r="2.8" fill="#666" stroke-width="1.06"/>
<polyline points="825.3,681.5 825.3,715"/>
<polyline points="825.3,715 822.1,716.717 828.5,720.15 822.1,723.583 828.5,727.017 822.1,730.45 828.5,733.883 825.3,735.6" stroke-width="2.54"/>
<polyline points="802.1,725.9 812,725.9" stroke-width="2.54"/>
<polygon points="800.28,724.6 803.92,724.6 802.1,719.4" fill="#222" stroke="none"/>
<circle cx="814.4" cy="725.9" r="2.3" fill="#222" stroke="none"/>
<polyline points="802.5,718 804,711" stroke-width="1.06" stroke-dasharray="2 2"/>
<polyline points="874.1,681.5 874.1,721.4"/>
<polyline points="874.1,721.4 870.9,723.067 877.3,726.4 870.9,729.733 877.3,733.067 870.9,736.4 877.3,739.733 874.1,741.4" stroke-width="2.54"/>
<polyline points="874.1,741.4 874.1,796"/>
<circle cx="892.8" cy="729.8" r="2.3" fill="#222" stroke="none"/>
<polyline points="892.8,729.8 892.8,775"/>
<circle cx="891.5" cy="778" r="2.6" fill="none" stroke-width="1.27"/>
<circle cx="906.9" cy="789" r="2.6" fill="none" stroke-width="1.27"/>
<circle cx="909.5" cy="774.8" r="2.6" fill="none" stroke-width="1.17"/>
<polyline points="889.6,779.5 906,787.6" stroke-width="3.18"/>
<polyline points="912,771.6 905,788" stroke-width="1.06" stroke-dasharray="2 2"/>
<text x="874" y="834.6" font-size="11" letter-spacing="4.1" text-anchor="start" class="mono" font-weight="bold" fill="#444" stroke="none">CRS-TLH</text>
<polyline points="964.7,681.5 964.7,753.6"/>
<polyline points="964.7,753.6 961.5,755.208 967.9,758.425 961.5,761.642 967.9,764.858 961.5,768.075 967.9,771.292 964.7,772.9" stroke-width="2.42"/>
<polyline points="964.7,772.9 964.7,827.5 1046.4,827.5 1046.4,806.5"/>
<circle cx="964.7" cy="730.4" r="2.6" fill="#222" stroke="none"/>
<circle cx="964.7" cy="794.7" r="2.6" fill="#222" stroke="none"/>
<polyline points="964.7,730.4 987.9,730.4" stroke-width="2.33"/>
<circle cx="987.9" cy="730.4" r="2.6" fill="#222" stroke="none"/>
<polyline points="943,789.2 943,800.2" stroke-width="2.54"/>
<polyline points="948,789.2 948,800.2" stroke-width="2.54"/>
<polyline points="950,794.7 964.7,794.7"/>
<circle cx="988.9" cy="644.4" r="2.5" fill="#222" stroke="none"/>
<polyline points="988.9,644.4 988.5,681.5"/>
<polyline points="983.9,663.5 993.9,663.5" stroke-width="2.33"/>
<path d="M983.9,669 q5.0,-6 10,0" stroke-width="1.59"/>
<polyline points="987.9,681.5 987.9,751"/>
<polyline points="982.9,705.8 992.9,705.8" stroke-width="2.33"/>
<path d="M982.9,711.3 q5.0,-6 10,0" stroke-width="1.59"/>
<polyline points="987.9,751 984.7,752.55 991.1,755.65 984.7,758.75 991.1,761.85 984.7,764.95 991.1,768.05 987.9,769.6" stroke-width="2.42"/>
<path d="M987.9,769.6 V782 q0,4.4 4.4,4.4 H1024.5" stroke-width="1.70"/>
<polyline points="1011.2,681.5 1011.2,786.4" stroke-width="2.12"/>
<circle cx="1011.2" cy="786.4" r="2.8" fill="#222" stroke="none"/>
<circle cx="1011.6" cy="730.4" r="4.6" fill="#777" stroke-width="1.27"/>
<circle cx="1045.1" cy="786.4" r="20.3" fill="none" stroke-width="2.65"/>
<polyline points="1036.1,776.4 1054.1,776.4" stroke-width="2.33"/>
<polyline points="1036.1,773.4 1036.1,776.4" stroke-width="1.27"/>
<polyline points="1054.1,773.4 1054.1,776.4" stroke-width="1.27"/>
<polyline points="1035.1,782.9 1056.1,782.9" stroke-width="1.59" stroke-dasharray="3 2.2"/>
<polyline points="1035.1,787.9 1056.1,787.9" stroke-width="1.59" stroke-dasharray="3 2.2"/>
<polyline points="1039.1,795.9 1051.1,795.9" stroke-width="3.18"/>
<circle cx="1056" cy="750.4" r="2.6" fill="#222" stroke="none"/>
<path d="M1056,750.4 H1072 q4.6,0 4.6,4.6 V786 q0,4.5 -4.5,4.5 H1064" stroke-width="2.12"/>
<polyline points="1065.5,783.1 1088.8,783.1"/>
<circle cx="1088.8" cy="783.1" r="2.6" fill="#222" stroke="none"/>
<polyline points="1088.3,783 1088.3,741.4"/>
<polyline points="1088.3,720.8 1085.1,722.517 1091.5,725.95 1085.1,729.383 1091.5,732.817 1085.1,736.25 1091.5,739.683 1088.3,741.4" stroke-width="2.42"/>
<polyline points="1088.3,720.8 1088.5,681.5"/>
<polyline points="1088.8,782.5 1095,782.3"/>
<polyline points="1097,776.7 1097,787.7" stroke-width="2.54"/>
<polyline points="1102,776.7 1102,787.7" stroke-width="2.54"/>
<polyline points="1103,782.1 1110.7,782.1"/>
<polyline points="761,796.3 777.8,796.6"/>
<polyline points="1160.3,760.2 1168.5,760.2"/>
</svg>
<div class="t" id="t1">VI.VI.VII</div>
<div class="t" id="t2">FIELD REPORTS FROM THE WESTERN LANDS</div>
<div class="t" id="t3">REINDEER</div>
</body></html>
